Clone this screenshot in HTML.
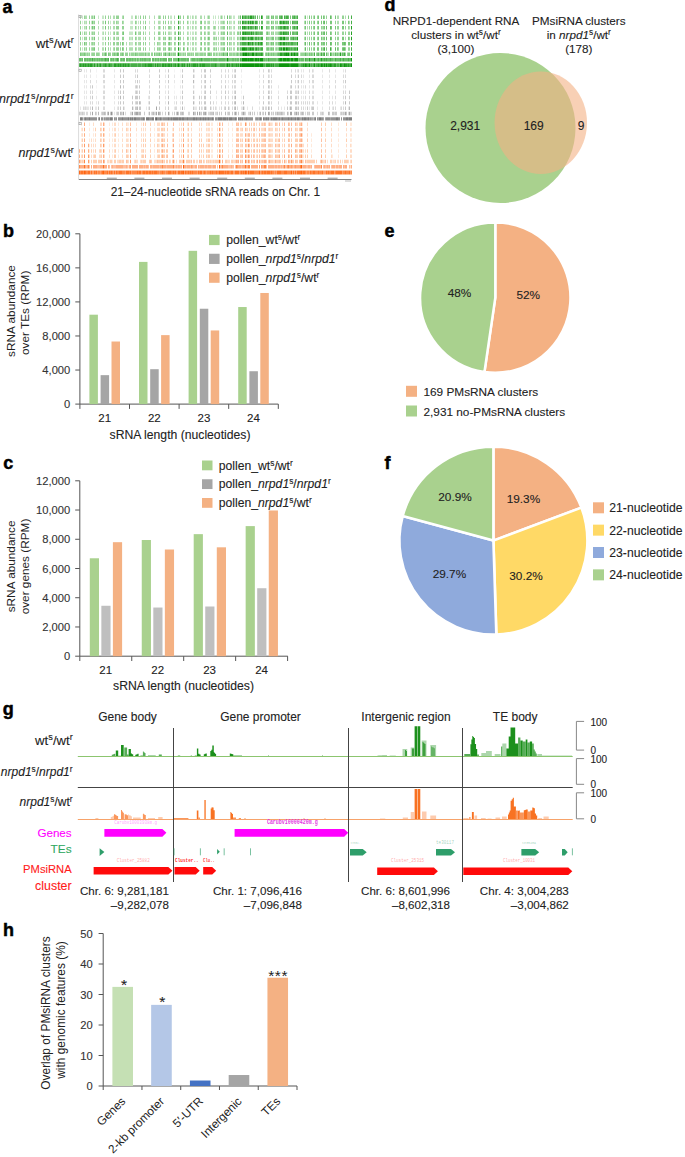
<!DOCTYPE html><html><head><meta charset="utf-8"><style>html,body{margin:0;padding:0;background:#fff;width:685px;height:1157px;overflow:hidden;position:relative}</style></head><body><svg width="685" height="1157" viewBox="0 0 685 1157" font-family='"Liberation Sans", sans-serif' style="position:absolute;left:0;top:0">
<rect width="685" height="1157" fill="#fff"/>
<text x="2.6" y="12.7" font-size="18" text-anchor="start" font-weight="bold" fill="#000" stroke="#000" stroke-width="0.45">a</text>
<text x="3.0" y="237.1" font-size="18" text-anchor="start" font-weight="bold" fill="#000" stroke="#000" stroke-width="0.45">b</text>
<text x="3.2" y="469.1" font-size="18" text-anchor="start" font-weight="bold" fill="#000" stroke="#000" stroke-width="0.45">c</text>
<text x="384.6" y="11.0" font-size="18" text-anchor="start" font-weight="bold" fill="#000" stroke="#000" stroke-width="0.45">d</text>
<text x="384.6" y="237.0" font-size="18" text-anchor="start" font-weight="bold" fill="#000" stroke="#000" stroke-width="0.45">e</text>
<text x="384.6" y="469.1" font-size="18" text-anchor="start" font-weight="bold" fill="#000" stroke="#000" stroke-width="0.45">f</text>
<text x="2.8" y="714.8" font-size="18" text-anchor="start" font-weight="bold" fill="#000" stroke="#000" stroke-width="0.45">g</text>
<text x="3.0" y="936.3" font-size="18" text-anchor="start" font-weight="bold" fill="#000" stroke="#000" stroke-width="0.45">h</text>
<defs><filter id="tb" x="-5%" y="-5%" width="110%" height="110%"><feGaussianBlur stdDeviation="0.55 0.35"/></filter></defs><g filter="url(#tb)">
<path d="M82 20.8h1v3.5h-1zM130 20.8h1v3.5h-1zM82 26.1h1v3.5h-1zM220 31.4h1v3.5h-1z" fill="#0b960b" fill-opacity="0.14"/>
<path d="M82 15.5h1v3.5h-1zM93 15.5h1v3.5h-1zM98 15.5h1v3.5h-1zM102 15.5h2v3.5h-2zM131 15.5h2v3.5h-2zM138 15.5h1v3.5h-1zM170 15.5h2v3.5h-2zM179 15.5h1v3.5h-1zM190 15.5h1v3.5h-1zM193 15.5h1v3.5h-1zM196 15.5h1v3.5h-1zM207 15.5h1v3.5h-1zM213 15.5h1v3.5h-1zM215 15.5h1v3.5h-1zM218 15.5h1v3.5h-1zM220 15.5h1v3.5h-1zM222 15.5h1v3.5h-1zM231 15.5h1v3.5h-1zM233 15.5h2v3.5h-2zM239 15.5h1v3.5h-1zM269 15.5h1v3.5h-1zM304 15.5h1v3.5h-1zM307 15.5h1v3.5h-1zM85 20.8h1v3.5h-1zM91 20.8h1v3.5h-1zM102 20.8h1v3.5h-1zM110 20.8h1v3.5h-1zM131 20.8h2v3.5h-2zM138 20.8h1v3.5h-1zM149 20.8h1v3.5h-1zM160 20.8h1v3.5h-1zM170 20.8h1v3.5h-1zM179 20.8h1v3.5h-1zM188 20.8h1v3.5h-1zM190 20.8h1v3.5h-1zM192 20.8h1v3.5h-1zM196 20.8h1v3.5h-1zM207 20.8h1v3.5h-1zM213 20.8h1v3.5h-1zM215 20.8h1v3.5h-1zM218 20.8h1v3.5h-1zM220 20.8h1v3.5h-1zM230 20.8h2v3.5h-2zM233 20.8h1v3.5h-1zM239 20.8h1v3.5h-1zM269 20.8h1v3.5h-1zM85 26.1h1v3.5h-1zM91 26.1h1v3.5h-1zM102 26.1h2v3.5h-2zM130 26.1h3v3.5h-3zM136 26.1h1v3.5h-1zM149 26.1h1v3.5h-1zM160 26.1h1v3.5h-1zM171 26.1h1v3.5h-1zM179 26.1h1v3.5h-1zM190 26.1h1v3.5h-1zM193 26.1h1v3.5h-1zM196 26.1h1v3.5h-1zM207 26.1h1v3.5h-1zM220 26.1h1v3.5h-1zM230 26.1h2v3.5h-2zM233 26.1h1v3.5h-1zM239 26.1h1v3.5h-1zM82 31.4h1v3.5h-1zM85 31.4h1v3.5h-1zM91 31.4h1v3.5h-1zM102 31.4h1v3.5h-1zM110 31.4h1v3.5h-1zM129 31.4h4v3.5h-4zM136 31.4h1v3.5h-1zM160 31.4h1v3.5h-1zM170 31.4h2v3.5h-2zM179 31.4h1v3.5h-1zM188 31.4h1v3.5h-1zM190 31.4h1v3.5h-1zM192 31.4h2v3.5h-2zM196 31.4h1v3.5h-1zM207 31.4h1v3.5h-1zM215 31.4h1v3.5h-1zM229 31.4h1v3.5h-1zM233 31.4h1v3.5h-1zM239 31.4h1v3.5h-1zM304 31.4h1v3.5h-1zM82 36.7h1v3.5h-1zM91 36.7h1v3.5h-1zM93 36.7h1v3.5h-1zM102 36.7h2v3.5h-2zM110 36.7h1v3.5h-1zM130 36.7h2v3.5h-2zM160 36.7h1v3.5h-1zM190 36.7h1v3.5h-1zM196 36.7h1v3.5h-1zM207 36.7h1v3.5h-1zM215 36.7h1v3.5h-1zM220 36.7h1v3.5h-1zM230 36.7h1v3.5h-1zM233 36.7h2v3.5h-2zM239 36.7h1v3.5h-1zM82 42.0h1v3.5h-1zM102 42.0h2v3.5h-2zM130 42.0h3v3.5h-3zM160 42.0h1v3.5h-1zM179 42.0h1v3.5h-1zM190 42.0h1v3.5h-1zM196 42.0h1v3.5h-1zM215 42.0h1v3.5h-1zM220 42.0h1v3.5h-1zM239 42.0h1v3.5h-1zM269 42.0h1v3.5h-1zM82 47.3h1v3.5h-1zM85 47.3h1v3.5h-1zM179 47.3h1v3.5h-1zM188 47.3h1v3.5h-1zM190 47.3h1v3.5h-1zM196 47.3h1v3.5h-1zM207 47.3h1v3.5h-1zM215 47.3h1v3.5h-1zM220 47.3h1v3.5h-1zM230 47.3h1v3.5h-1zM239 47.3h1v3.5h-1zM304 47.3h1v3.5h-1zM130 52.6h1v3.5h-1zM215 52.6h1v3.5h-1zM218 52.6h1v3.5h-1z" fill="#0b960b" fill-opacity="0.22"/>
<path d="M80 15.5h1v3.5h-1zM85 15.5h2v3.5h-2zM91 15.5h1v3.5h-1zM110 15.5h1v3.5h-1zM113 15.5h2v3.5h-2zM122 15.5h1v3.5h-1zM136 15.5h1v3.5h-1zM149 15.5h1v3.5h-1zM154 15.5h1v3.5h-1zM158 15.5h1v3.5h-1zM160 15.5h1v3.5h-1zM174 15.5h1v3.5h-1zM188 15.5h1v3.5h-1zM192 15.5h1v3.5h-1zM195 15.5h1v3.5h-1zM200 15.5h2v3.5h-2zM204 15.5h1v3.5h-1zM209 15.5h1v3.5h-1zM224 15.5h1v3.5h-1zM230 15.5h1v3.5h-1zM238 15.5h1v3.5h-1zM313 15.5h1v3.5h-1zM337 15.5h2v3.5h-2zM345 15.5h1v3.5h-1zM84 20.8h1v3.5h-1zM86 20.8h1v3.5h-1zM93 20.8h1v3.5h-1zM98 20.8h1v3.5h-1zM103 20.8h1v3.5h-1zM113 20.8h2v3.5h-2zM117 20.8h2v3.5h-2zM123 20.8h1v3.5h-1zM136 20.8h1v3.5h-1zM143 20.8h1v3.5h-1zM154 20.8h1v3.5h-1zM158 20.8h2v3.5h-2zM171 20.8h1v3.5h-1zM174 20.8h1v3.5h-1zM180 20.8h1v3.5h-1zM193 20.8h1v3.5h-1zM195 20.8h1v3.5h-1zM204 20.8h2v3.5h-2zM208 20.8h2v3.5h-2zM221 20.8h2v3.5h-2zM224 20.8h1v3.5h-1zM229 20.8h1v3.5h-1zM234 20.8h1v3.5h-1zM254 20.8h1v3.5h-1zM266 20.8h1v3.5h-1zM272 20.8h1v3.5h-1zM276 20.8h1v3.5h-1zM304 20.8h1v3.5h-1zM307 20.8h1v3.5h-1zM313 20.8h1v3.5h-1zM337 20.8h2v3.5h-2zM345 20.8h1v3.5h-1zM349 20.8h1v3.5h-1zM84 26.1h1v3.5h-1zM93 26.1h1v3.5h-1zM98 26.1h1v3.5h-1zM110 26.1h1v3.5h-1zM113 26.1h2v3.5h-2zM138 26.1h1v3.5h-1zM140 26.1h1v3.5h-1zM143 26.1h1v3.5h-1zM154 26.1h1v3.5h-1zM158 26.1h1v3.5h-1zM165 26.1h1v3.5h-1zM170 26.1h1v3.5h-1zM180 26.1h1v3.5h-1zM183 26.1h1v3.5h-1zM187 26.1h2v3.5h-2zM192 26.1h1v3.5h-1zM195 26.1h1v3.5h-1zM205 26.1h1v3.5h-1zM209 26.1h1v3.5h-1zM213 26.1h1v3.5h-1zM215 26.1h1v3.5h-1zM218 26.1h1v3.5h-1zM221 26.1h2v3.5h-2zM234 26.1h1v3.5h-1zM269 26.1h1v3.5h-1zM275 26.1h1v3.5h-1zM277 26.1h1v3.5h-1zM304 26.1h1v3.5h-1zM307 26.1h1v3.5h-1zM322 26.1h1v3.5h-1zM349 26.1h1v3.5h-1zM86 31.4h1v3.5h-1zM93 31.4h1v3.5h-1zM98 31.4h1v3.5h-1zM103 31.4h1v3.5h-1zM105 31.4h1v3.5h-1zM108 31.4h1v3.5h-1zM113 31.4h1v3.5h-1zM116 31.4h1v3.5h-1zM118 31.4h1v3.5h-1zM138 31.4h2v3.5h-2zM145 31.4h1v3.5h-1zM149 31.4h1v3.5h-1zM154 31.4h1v3.5h-1zM168 31.4h2v3.5h-2zM174 31.4h1v3.5h-1zM183 31.4h1v3.5h-1zM187 31.4h1v3.5h-1zM195 31.4h1v3.5h-1zM200 31.4h1v3.5h-1zM205 31.4h1v3.5h-1zM209 31.4h1v3.5h-1zM213 31.4h2v3.5h-2zM218 31.4h1v3.5h-1zM222 31.4h1v3.5h-1zM230 31.4h2v3.5h-2zM234 31.4h1v3.5h-1zM268 31.4h2v3.5h-2zM272 31.4h1v3.5h-1zM275 31.4h3v3.5h-3zM307 31.4h1v3.5h-1zM313 31.4h1v3.5h-1zM322 31.4h1v3.5h-1zM337 31.4h2v3.5h-2zM85 36.7h1v3.5h-1zM98 36.7h1v3.5h-1zM113 36.7h1v3.5h-1zM116 36.7h2v3.5h-2zM129 36.7h1v3.5h-1zM132 36.7h1v3.5h-1zM136 36.7h1v3.5h-1zM138 36.7h3v3.5h-3zM143 36.7h1v3.5h-1zM149 36.7h1v3.5h-1zM158 36.7h1v3.5h-1zM164 36.7h1v3.5h-1zM168 36.7h1v3.5h-1zM170 36.7h2v3.5h-2zM174 36.7h1v3.5h-1zM179 36.7h1v3.5h-1zM183 36.7h1v3.5h-1zM188 36.7h1v3.5h-1zM192 36.7h2v3.5h-2zM195 36.7h1v3.5h-1zM200 36.7h1v3.5h-1zM205 36.7h1v3.5h-1zM213 36.7h1v3.5h-1zM218 36.7h1v3.5h-1zM221 36.7h2v3.5h-2zM224 36.7h1v3.5h-1zM229 36.7h1v3.5h-1zM231 36.7h1v3.5h-1zM238 36.7h1v3.5h-1zM269 36.7h2v3.5h-2zM276 36.7h2v3.5h-2zM304 36.7h1v3.5h-1zM307 36.7h1v3.5h-1zM322 36.7h1v3.5h-1zM345 36.7h1v3.5h-1zM85 42.0h1v3.5h-1zM89 42.0h1v3.5h-1zM91 42.0h1v3.5h-1zM93 42.0h1v3.5h-1zM98 42.0h1v3.5h-1zM110 42.0h1v3.5h-1zM116 42.0h1v3.5h-1zM126 42.0h1v3.5h-1zM129 42.0h1v3.5h-1zM136 42.0h1v3.5h-1zM138 42.0h2v3.5h-2zM149 42.0h1v3.5h-1zM154 42.0h1v3.5h-1zM158 42.0h2v3.5h-2zM164 42.0h1v3.5h-1zM170 42.0h2v3.5h-2zM175 42.0h1v3.5h-1zM180 42.0h1v3.5h-1zM184 42.0h1v3.5h-1zM187 42.0h2v3.5h-2zM192 42.0h2v3.5h-2zM195 42.0h1v3.5h-1zM200 42.0h1v3.5h-1zM205 42.0h1v3.5h-1zM207 42.0h1v3.5h-1zM209 42.0h1v3.5h-1zM213 42.0h2v3.5h-2zM216 42.0h1v3.5h-1zM218 42.0h1v3.5h-1zM222 42.0h1v3.5h-1zM230 42.0h2v3.5h-2zM233 42.0h2v3.5h-2zM238 42.0h1v3.5h-1zM270 42.0h1v3.5h-1zM275 42.0h1v3.5h-1zM277 42.0h1v3.5h-1zM304 42.0h1v3.5h-1zM307 42.0h1v3.5h-1zM313 42.0h1v3.5h-1zM338 42.0h1v3.5h-1zM91 47.3h1v3.5h-1zM98 47.3h1v3.5h-1zM102 47.3h2v3.5h-2zM110 47.3h1v3.5h-1zM113 47.3h1v3.5h-1zM129 47.3h4v3.5h-4zM136 47.3h1v3.5h-1zM138 47.3h2v3.5h-2zM149 47.3h1v3.5h-1zM154 47.3h1v3.5h-1zM158 47.3h1v3.5h-1zM160 47.3h1v3.5h-1zM164 47.3h1v3.5h-1zM170 47.3h2v3.5h-2zM180 47.3h1v3.5h-1zM184 47.3h1v3.5h-1zM192 47.3h2v3.5h-2zM195 47.3h1v3.5h-1zM209 47.3h1v3.5h-1zM213 47.3h1v3.5h-1zM218 47.3h1v3.5h-1zM221 47.3h2v3.5h-2zM231 47.3h1v3.5h-1zM233 47.3h2v3.5h-2zM269 47.3h1v3.5h-1zM275 47.3h1v3.5h-1zM277 47.3h1v3.5h-1zM307 47.3h1v3.5h-1zM322 47.3h1v3.5h-1zM86 52.6h1v3.5h-1zM88 52.6h1v3.5h-1zM91 52.6h1v3.5h-1zM99 52.6h1v3.5h-1zM103 52.6h1v3.5h-1zM134 52.6h1v3.5h-1zM138 52.6h1v3.5h-1zM144 52.6h1v3.5h-1zM146 52.6h2v3.5h-2zM155 52.6h1v3.5h-1zM160 52.6h1v3.5h-1zM166 52.6h2v3.5h-2zM170 52.6h1v3.5h-1zM172 52.6h1v3.5h-1zM177 52.6h1v3.5h-1zM181 52.6h2v3.5h-2zM184 52.6h1v3.5h-1zM190 52.6h1v3.5h-1zM192 52.6h1v3.5h-1zM198 52.6h2v3.5h-2zM203 52.6h1v3.5h-1zM207 52.6h1v3.5h-1zM217 52.6h1v3.5h-1zM220 52.6h1v3.5h-1zM232 52.6h1v3.5h-1zM235 52.6h1v3.5h-1zM239 52.6h1v3.5h-1zM263 52.6h1v3.5h-1zM298 52.6h1v3.5h-1zM300 52.6h1v3.5h-1zM308 52.6h1v3.5h-1zM313 52.6h1v3.5h-1zM319 52.6h1v3.5h-1zM327 52.6h2v3.5h-2zM332 52.6h1v3.5h-1zM334 52.6h1v3.5h-1zM341 52.6h1v3.5h-1zM190 57.9h1v3.5h-1zM239 57.9h1v3.5h-1zM304 57.9h1v3.5h-1z" fill="#0b960b" fill-opacity="0.31"/>
<path d="M84 15.5h1v3.5h-1zM89 15.5h1v3.5h-1zM92 15.5h1v3.5h-1zM105 15.5h1v3.5h-1zM108 15.5h1v3.5h-1zM116 15.5h3v3.5h-3zM123 15.5h1v3.5h-1zM135 15.5h1v3.5h-1zM140 15.5h1v3.5h-1zM143 15.5h1v3.5h-1zM145 15.5h1v3.5h-1zM159 15.5h1v3.5h-1zM163 15.5h1v3.5h-1zM165 15.5h1v3.5h-1zM168 15.5h1v3.5h-1zM180 15.5h1v3.5h-1zM183 15.5h1v3.5h-1zM187 15.5h1v3.5h-1zM208 15.5h1v3.5h-1zM221 15.5h1v3.5h-1zM229 15.5h1v3.5h-1zM254 15.5h1v3.5h-1zM259 15.5h1v3.5h-1zM266 15.5h2v3.5h-2zM272 15.5h1v3.5h-1zM275 15.5h3v3.5h-3zM311 15.5h1v3.5h-1zM317 15.5h1v3.5h-1zM324 15.5h1v3.5h-1zM326 15.5h1v3.5h-1zM331 15.5h1v3.5h-1zM342 15.5h2v3.5h-2zM80 20.8h1v3.5h-1zM89 20.8h1v3.5h-1zM94 20.8h1v3.5h-1zM108 20.8h1v3.5h-1zM116 20.8h1v3.5h-1zM122 20.8h1v3.5h-1zM135 20.8h1v3.5h-1zM140 20.8h1v3.5h-1zM145 20.8h1v3.5h-1zM163 20.8h1v3.5h-1zM165 20.8h1v3.5h-1zM168 20.8h1v3.5h-1zM183 20.8h1v3.5h-1zM187 20.8h1v3.5h-1zM200 20.8h1v3.5h-1zM223 20.8h1v3.5h-1zM238 20.8h1v3.5h-1zM259 20.8h1v3.5h-1zM267 20.8h2v3.5h-2zM273 20.8h1v3.5h-1zM275 20.8h1v3.5h-1zM277 20.8h1v3.5h-1zM290 20.8h1v3.5h-1zM311 20.8h1v3.5h-1zM317 20.8h1v3.5h-1zM326 20.8h1v3.5h-1zM335 20.8h1v3.5h-1zM80 26.1h1v3.5h-1zM86 26.1h1v3.5h-1zM89 26.1h1v3.5h-1zM108 26.1h1v3.5h-1zM116 26.1h3v3.5h-3zM122 26.1h2v3.5h-2zM135 26.1h1v3.5h-1zM159 26.1h1v3.5h-1zM163 26.1h1v3.5h-1zM168 26.1h2v3.5h-2zM174 26.1h1v3.5h-1zM200 26.1h2v3.5h-2zM204 26.1h1v3.5h-1zM208 26.1h1v3.5h-1zM214 26.1h1v3.5h-1zM223 26.1h2v3.5h-2zM229 26.1h1v3.5h-1zM238 26.1h1v3.5h-1zM254 26.1h1v3.5h-1zM267 26.1h2v3.5h-2zM272 26.1h1v3.5h-1zM276 26.1h1v3.5h-1zM309 26.1h1v3.5h-1zM311 26.1h1v3.5h-1zM313 26.1h1v3.5h-1zM317 26.1h1v3.5h-1zM321 26.1h1v3.5h-1zM323 26.1h1v3.5h-1zM337 26.1h2v3.5h-2zM345 26.1h1v3.5h-1zM348 26.1h1v3.5h-1zM84 31.4h1v3.5h-1zM89 31.4h1v3.5h-1zM92 31.4h1v3.5h-1zM94 31.4h1v3.5h-1zM114 31.4h1v3.5h-1zM117 31.4h1v3.5h-1zM122 31.4h1v3.5h-1zM140 31.4h1v3.5h-1zM143 31.4h1v3.5h-1zM158 31.4h2v3.5h-2zM163 31.4h1v3.5h-1zM165 31.4h1v3.5h-1zM175 31.4h1v3.5h-1zM180 31.4h1v3.5h-1zM201 31.4h1v3.5h-1zM204 31.4h1v3.5h-1zM208 31.4h1v3.5h-1zM221 31.4h1v3.5h-1zM223 31.4h2v3.5h-2zM237 31.4h2v3.5h-2zM254 31.4h1v3.5h-1zM266 31.4h1v3.5h-1zM271 31.4h1v3.5h-1zM273 31.4h1v3.5h-1zM278 31.4h1v3.5h-1zM309 31.4h1v3.5h-1zM311 31.4h1v3.5h-1zM317 31.4h1v3.5h-1zM331 31.4h1v3.5h-1zM342 31.4h2v3.5h-2zM345 31.4h1v3.5h-1zM348 31.4h2v3.5h-2zM80 36.7h1v3.5h-1zM84 36.7h1v3.5h-1zM86 36.7h1v3.5h-1zM89 36.7h1v3.5h-1zM92 36.7h1v3.5h-1zM105 36.7h1v3.5h-1zM114 36.7h1v3.5h-1zM118 36.7h1v3.5h-1zM122 36.7h2v3.5h-2zM135 36.7h1v3.5h-1zM145 36.7h1v3.5h-1zM154 36.7h1v3.5h-1zM159 36.7h1v3.5h-1zM163 36.7h1v3.5h-1zM165 36.7h1v3.5h-1zM175 36.7h1v3.5h-1zM180 36.7h1v3.5h-1zM187 36.7h1v3.5h-1zM201 36.7h1v3.5h-1zM204 36.7h1v3.5h-1zM209 36.7h1v3.5h-1zM214 36.7h1v3.5h-1zM216 36.7h1v3.5h-1zM223 36.7h1v3.5h-1zM237 36.7h1v3.5h-1zM241 36.7h1v3.5h-1zM254 36.7h1v3.5h-1zM267 36.7h2v3.5h-2zM271 36.7h1v3.5h-1zM275 36.7h1v3.5h-1zM309 36.7h1v3.5h-1zM311 36.7h1v3.5h-1zM313 36.7h1v3.5h-1zM317 36.7h1v3.5h-1zM323 36.7h1v3.5h-1zM335 36.7h1v3.5h-1zM337 36.7h2v3.5h-2zM349 36.7h1v3.5h-1zM80 42.0h1v3.5h-1zM86 42.0h1v3.5h-1zM92 42.0h1v3.5h-1zM94 42.0h1v3.5h-1zM105 42.0h1v3.5h-1zM108 42.0h1v3.5h-1zM113 42.0h2v3.5h-2zM117 42.0h2v3.5h-2zM120 42.0h1v3.5h-1zM123 42.0h1v3.5h-1zM135 42.0h1v3.5h-1zM140 42.0h1v3.5h-1zM143 42.0h1v3.5h-1zM145 42.0h1v3.5h-1zM157 42.0h1v3.5h-1zM163 42.0h1v3.5h-1zM165 42.0h1v3.5h-1zM168 42.0h1v3.5h-1zM174 42.0h1v3.5h-1zM183 42.0h1v3.5h-1zM204 42.0h1v3.5h-1zM208 42.0h1v3.5h-1zM221 42.0h1v3.5h-1zM223 42.0h2v3.5h-2zM229 42.0h1v3.5h-1zM237 42.0h1v3.5h-1zM254 42.0h1v3.5h-1zM267 42.0h2v3.5h-2zM272 42.0h1v3.5h-1zM276 42.0h1v3.5h-1zM311 42.0h1v3.5h-1zM317 42.0h1v3.5h-1zM322 42.0h1v3.5h-1zM337 42.0h1v3.5h-1zM80 47.3h1v3.5h-1zM84 47.3h1v3.5h-1zM86 47.3h1v3.5h-1zM89 47.3h1v3.5h-1zM92 47.3h2v3.5h-2zM108 47.3h1v3.5h-1zM114 47.3h1v3.5h-1zM116 47.3h3v3.5h-3zM120 47.3h1v3.5h-1zM123 47.3h1v3.5h-1zM126 47.3h1v3.5h-1zM135 47.3h1v3.5h-1zM140 47.3h1v3.5h-1zM143 47.3h1v3.5h-1zM145 47.3h1v3.5h-1zM157 47.3h1v3.5h-1zM159 47.3h1v3.5h-1zM163 47.3h1v3.5h-1zM165 47.3h1v3.5h-1zM168 47.3h1v3.5h-1zM174 47.3h2v3.5h-2zM200 47.3h2v3.5h-2zM204 47.3h2v3.5h-2zM214 47.3h1v3.5h-1zM216 47.3h1v3.5h-1zM223 47.3h1v3.5h-1zM229 47.3h1v3.5h-1zM238 47.3h1v3.5h-1zM254 47.3h1v3.5h-1zM266 47.3h1v3.5h-1zM270 47.3h1v3.5h-1zM272 47.3h1v3.5h-1zM276 47.3h1v3.5h-1zM278 47.3h1v3.5h-1zM311 47.3h1v3.5h-1zM313 47.3h1v3.5h-1zM331 47.3h1v3.5h-1zM338 47.3h1v3.5h-1zM345 47.3h1v3.5h-1zM348 47.3h2v3.5h-2zM81 52.6h3v3.5h-3zM85 52.6h1v3.5h-1zM87 52.6h1v3.5h-1zM89 52.6h1v3.5h-1zM92 52.6h3v3.5h-3zM96 52.6h3v3.5h-3zM102 52.6h1v3.5h-1zM104 52.6h1v3.5h-1zM106 52.6h1v3.5h-1zM109 52.6h2v3.5h-2zM112 52.6h2v3.5h-2zM115 52.6h2v3.5h-2zM120 52.6h2v3.5h-2zM123 52.6h1v3.5h-1zM125 52.6h3v3.5h-3zM129 52.6h1v3.5h-1zM131 52.6h3v3.5h-3zM136 52.6h2v3.5h-2zM139 52.6h5v3.5h-5zM148 52.6h2v3.5h-2zM151 52.6h2v3.5h-2zM156 52.6h3v3.5h-3zM161 52.6h1v3.5h-1zM163 52.6h2v3.5h-2zM168 52.6h1v3.5h-1zM171 52.6h1v3.5h-1zM173 52.6h3v3.5h-3zM179 52.6h2v3.5h-2zM183 52.6h1v3.5h-1zM185 52.6h1v3.5h-1zM187 52.6h3v3.5h-3zM191 52.6h1v3.5h-1zM193 52.6h1v3.5h-1zM195 52.6h3v3.5h-3zM200 52.6h3v3.5h-3zM204 52.6h2v3.5h-2zM210 52.6h2v3.5h-2zM213 52.6h2v3.5h-2zM216 52.6h1v3.5h-1zM219 52.6h1v3.5h-1zM221 52.6h2v3.5h-2zM224 52.6h3v3.5h-3zM229 52.6h3v3.5h-3zM233 52.6h2v3.5h-2zM236 52.6h1v3.5h-1zM238 52.6h1v3.5h-1zM265 52.6h1v3.5h-1zM267 52.6h1v3.5h-1zM269 52.6h2v3.5h-2zM272 52.6h1v3.5h-1zM274 52.6h3v3.5h-3zM301 52.6h4v3.5h-4zM306 52.6h2v3.5h-2zM310 52.6h1v3.5h-1zM312 52.6h1v3.5h-1zM316 52.6h1v3.5h-1zM320 52.6h1v3.5h-1zM322 52.6h1v3.5h-1zM333 52.6h1v3.5h-1zM336 52.6h1v3.5h-1zM338 52.6h2v3.5h-2zM345 52.6h1v3.5h-1zM347 52.6h1v3.5h-1zM114 57.9h1v3.5h-1zM136 57.9h1v3.5h-1zM139 57.9h1v3.5h-1zM154 57.9h1v3.5h-1zM159 57.9h1v3.5h-1z" fill="#0b960b" fill-opacity="0.41"/>
<path d="M94 15.5h1v3.5h-1zM247 15.5h1v3.5h-1zM249 15.5h1v3.5h-1zM268 15.5h1v3.5h-1zM271 15.5h1v3.5h-1zM273 15.5h1v3.5h-1zM282 15.5h1v3.5h-1zM285 15.5h1v3.5h-1zM290 15.5h1v3.5h-1zM295 15.5h2v3.5h-2zM305 15.5h1v3.5h-1zM309 15.5h1v3.5h-1zM314 15.5h1v3.5h-1zM318 15.5h1v3.5h-1zM321 15.5h1v3.5h-1zM323 15.5h1v3.5h-1zM335 15.5h1v3.5h-1zM348 15.5h1v3.5h-1zM92 20.8h1v3.5h-1zM105 20.8h1v3.5h-1zM201 20.8h1v3.5h-1zM227 20.8h1v3.5h-1zM240 20.8h1v3.5h-1zM247 20.8h1v3.5h-1zM249 20.8h1v3.5h-1zM257 20.8h1v3.5h-1zM271 20.8h1v3.5h-1zM279 20.8h1v3.5h-1zM305 20.8h1v3.5h-1zM309 20.8h1v3.5h-1zM314 20.8h1v3.5h-1zM318 20.8h1v3.5h-1zM321 20.8h1v3.5h-1zM323 20.8h1v3.5h-1zM330 20.8h2v3.5h-2zM342 20.8h2v3.5h-2zM348 20.8h1v3.5h-1zM92 26.1h1v3.5h-1zM94 26.1h1v3.5h-1zM105 26.1h1v3.5h-1zM145 26.1h1v3.5h-1zM227 26.1h1v3.5h-1zM240 26.1h1v3.5h-1zM247 26.1h1v3.5h-1zM249 26.1h1v3.5h-1zM259 26.1h1v3.5h-1zM266 26.1h1v3.5h-1zM271 26.1h1v3.5h-1zM273 26.1h1v3.5h-1zM278 26.1h2v3.5h-2zM282 26.1h1v3.5h-1zM290 26.1h1v3.5h-1zM292 26.1h1v3.5h-1zM295 26.1h1v3.5h-1zM305 26.1h1v3.5h-1zM314 26.1h1v3.5h-1zM318 26.1h1v3.5h-1zM324 26.1h1v3.5h-1zM331 26.1h1v3.5h-1zM335 26.1h1v3.5h-1zM342 26.1h2v3.5h-2zM80 31.4h1v3.5h-1zM123 31.4h1v3.5h-1zM135 31.4h1v3.5h-1zM259 31.4h1v3.5h-1zM262 31.4h1v3.5h-1zM267 31.4h1v3.5h-1zM279 31.4h1v3.5h-1zM282 31.4h1v3.5h-1zM294 31.4h2v3.5h-2zM305 31.4h1v3.5h-1zM314 31.4h1v3.5h-1zM318 31.4h1v3.5h-1zM321 31.4h1v3.5h-1zM323 31.4h1v3.5h-1zM326 31.4h1v3.5h-1zM330 31.4h1v3.5h-1zM335 31.4h1v3.5h-1zM94 36.7h1v3.5h-1zM108 36.7h1v3.5h-1zM169 36.7h1v3.5h-1zM208 36.7h1v3.5h-1zM247 36.7h1v3.5h-1zM257 36.7h1v3.5h-1zM259 36.7h2v3.5h-2zM266 36.7h1v3.5h-1zM272 36.7h2v3.5h-2zM278 36.7h1v3.5h-1zM285 36.7h1v3.5h-1zM290 36.7h1v3.5h-1zM294 36.7h1v3.5h-1zM296 36.7h1v3.5h-1zM305 36.7h1v3.5h-1zM314 36.7h1v3.5h-1zM318 36.7h1v3.5h-1zM321 36.7h1v3.5h-1zM324 36.7h1v3.5h-1zM331 36.7h1v3.5h-1zM342 36.7h2v3.5h-2zM348 36.7h1v3.5h-1zM84 42.0h1v3.5h-1zM122 42.0h1v3.5h-1zM169 42.0h1v3.5h-1zM201 42.0h1v3.5h-1zM227 42.0h1v3.5h-1zM241 42.0h1v3.5h-1zM257 42.0h1v3.5h-1zM266 42.0h1v3.5h-1zM271 42.0h1v3.5h-1zM273 42.0h1v3.5h-1zM278 42.0h1v3.5h-1zM296 42.0h1v3.5h-1zM318 42.0h1v3.5h-1zM321 42.0h1v3.5h-1zM323 42.0h2v3.5h-2zM326 42.0h1v3.5h-1zM331 42.0h1v3.5h-1zM335 42.0h1v3.5h-1zM342 42.0h2v3.5h-2zM345 42.0h1v3.5h-1zM348 42.0h2v3.5h-2zM94 47.3h1v3.5h-1zM105 47.3h1v3.5h-1zM122 47.3h1v3.5h-1zM169 47.3h1v3.5h-1zM183 47.3h1v3.5h-1zM187 47.3h1v3.5h-1zM208 47.3h1v3.5h-1zM224 47.3h1v3.5h-1zM237 47.3h1v3.5h-1zM241 47.3h1v3.5h-1zM259 47.3h1v3.5h-1zM267 47.3h2v3.5h-2zM271 47.3h1v3.5h-1zM273 47.3h1v3.5h-1zM282 47.3h1v3.5h-1zM309 47.3h1v3.5h-1zM314 47.3h1v3.5h-1zM317 47.3h2v3.5h-2zM321 47.3h1v3.5h-1zM323 47.3h1v3.5h-1zM326 47.3h1v3.5h-1zM337 47.3h1v3.5h-1zM342 47.3h1v3.5h-1zM80 52.6h1v3.5h-1zM84 52.6h1v3.5h-1zM108 52.6h1v3.5h-1zM114 52.6h1v3.5h-1zM118 52.6h1v3.5h-1zM122 52.6h1v3.5h-1zM135 52.6h1v3.5h-1zM145 52.6h1v3.5h-1zM154 52.6h1v3.5h-1zM159 52.6h1v3.5h-1zM208 52.6h2v3.5h-2zM237 52.6h1v3.5h-1zM241 52.6h1v3.5h-1zM266 52.6h1v3.5h-1zM271 52.6h1v3.5h-1zM273 52.6h1v3.5h-1zM277 52.6h1v3.5h-1zM290 52.6h1v3.5h-1zM309 52.6h1v3.5h-1zM311 52.6h1v3.5h-1zM317 52.6h1v3.5h-1zM331 52.6h1v3.5h-1zM337 52.6h1v3.5h-1zM343 52.6h1v3.5h-1zM348 52.6h2v3.5h-2zM81 57.9h1v3.5h-1zM86 57.9h1v3.5h-1zM88 57.9h1v3.5h-1zM91 57.9h1v3.5h-1zM93 57.9h1v3.5h-1zM95 57.9h2v3.5h-2zM98 57.9h1v3.5h-1zM100 57.9h1v3.5h-1zM103 57.9h1v3.5h-1zM110 57.9h1v3.5h-1zM112 57.9h1v3.5h-1zM115 57.9h1v3.5h-1zM120 57.9h1v3.5h-1zM122 57.9h1v3.5h-1zM128 57.9h1v3.5h-1zM131 57.9h1v3.5h-1zM133 57.9h2v3.5h-2zM138 57.9h1v3.5h-1zM141 57.9h1v3.5h-1zM143 57.9h1v3.5h-1zM146 57.9h3v3.5h-3zM150 57.9h1v3.5h-1zM156 57.9h2v3.5h-2zM161 57.9h2v3.5h-2zM170 57.9h1v3.5h-1zM173 57.9h5v3.5h-5zM180 57.9h1v3.5h-1zM186 57.9h1v3.5h-1zM191 57.9h1v3.5h-1zM195 57.9h2v3.5h-2zM198 57.9h1v3.5h-1zM203 57.9h1v3.5h-1zM210 57.9h1v3.5h-1zM212 57.9h1v3.5h-1zM217 57.9h2v3.5h-2zM225 57.9h2v3.5h-2zM229 57.9h3v3.5h-3zM234 57.9h1v3.5h-1zM236 57.9h1v3.5h-1zM265 57.9h1v3.5h-1zM267 57.9h1v3.5h-1zM276 57.9h2v3.5h-2zM298 57.9h1v3.5h-1zM300 57.9h1v3.5h-1zM308 57.9h1v3.5h-1zM316 57.9h1v3.5h-1zM319 57.9h1v3.5h-1zM333 57.9h2v3.5h-2zM341 57.9h1v3.5h-1z" fill="#0b960b" fill-opacity="0.52"/>
<path d="M227 15.5h1v3.5h-1zM240 15.5h1v3.5h-1zM243 15.5h2v3.5h-2zM246 15.5h1v3.5h-1zM252 15.5h1v3.5h-1zM255 15.5h1v3.5h-1zM257 15.5h1v3.5h-1zM262 15.5h1v3.5h-1zM279 15.5h2v3.5h-2zM288 15.5h1v3.5h-1zM292 15.5h2v3.5h-2zM330 15.5h1v3.5h-1zM244 20.8h1v3.5h-1zM246 20.8h1v3.5h-1zM251 20.8h1v3.5h-1zM261 20.8h2v3.5h-2zM282 20.8h1v3.5h-1zM285 20.8h1v3.5h-1zM287 20.8h1v3.5h-1zM293 20.8h4v3.5h-4zM324 20.8h1v3.5h-1zM246 26.1h1v3.5h-1zM252 26.1h2v3.5h-2zM256 26.1h2v3.5h-2zM286 26.1h1v3.5h-1zM288 26.1h1v3.5h-1zM293 26.1h1v3.5h-1zM296 26.1h1v3.5h-1zM326 26.1h1v3.5h-1zM330 26.1h1v3.5h-1zM227 31.4h1v3.5h-1zM240 31.4h1v3.5h-1zM250 31.4h1v3.5h-1zM252 31.4h1v3.5h-1zM255 31.4h1v3.5h-1zM257 31.4h2v3.5h-2zM260 31.4h2v3.5h-2zM287 31.4h1v3.5h-1zM290 31.4h1v3.5h-1zM292 31.4h2v3.5h-2zM296 31.4h1v3.5h-1zM324 31.4h1v3.5h-1zM227 36.7h1v3.5h-1zM240 36.7h1v3.5h-1zM246 36.7h1v3.5h-1zM249 36.7h1v3.5h-1zM253 36.7h1v3.5h-1zM279 36.7h1v3.5h-1zM282 36.7h1v3.5h-1zM286 36.7h3v3.5h-3zM291 36.7h2v3.5h-2zM295 36.7h1v3.5h-1zM326 36.7h1v3.5h-1zM330 36.7h1v3.5h-1zM240 42.0h1v3.5h-1zM246 42.0h2v3.5h-2zM251 42.0h1v3.5h-1zM253 42.0h1v3.5h-1zM256 42.0h1v3.5h-1zM259 42.0h1v3.5h-1zM262 42.0h1v3.5h-1zM279 42.0h1v3.5h-1zM282 42.0h1v3.5h-1zM285 42.0h1v3.5h-1zM287 42.0h1v3.5h-1zM289 42.0h2v3.5h-2zM293 42.0h3v3.5h-3zM305 42.0h1v3.5h-1zM309 42.0h1v3.5h-1zM314 42.0h1v3.5h-1zM330 42.0h1v3.5h-1zM344 42.0h1v3.5h-1zM227 47.3h1v3.5h-1zM240 47.3h1v3.5h-1zM247 47.3h1v3.5h-1zM257 47.3h1v3.5h-1zM260 47.3h1v3.5h-1zM285 47.3h1v3.5h-1zM290 47.3h1v3.5h-1zM292 47.3h2v3.5h-2zM296 47.3h1v3.5h-1zM305 47.3h1v3.5h-1zM335 47.3h1v3.5h-1zM343 47.3h2v3.5h-2zM105 52.6h1v3.5h-1zM117 52.6h1v3.5h-1zM165 52.6h1v3.5h-1zM169 52.6h1v3.5h-1zM223 52.6h1v3.5h-1zM240 52.6h1v3.5h-1zM254 52.6h1v3.5h-1zM268 52.6h1v3.5h-1zM278 52.6h2v3.5h-2zM289 52.6h1v3.5h-1zM305 52.6h1v3.5h-1zM318 52.6h1v3.5h-1zM323 52.6h1v3.5h-1zM326 52.6h1v3.5h-1zM335 52.6h1v3.5h-1zM342 52.6h1v3.5h-1zM79 57.9h2v3.5h-2zM82 57.9h1v3.5h-1zM84 57.9h2v3.5h-2zM87 57.9h1v3.5h-1zM89 57.9h2v3.5h-2zM94 57.9h1v3.5h-1zM97 57.9h1v3.5h-1zM99 57.9h1v3.5h-1zM101 57.9h2v3.5h-2zM104 57.9h1v3.5h-1zM106 57.9h2v3.5h-2zM111 57.9h1v3.5h-1zM113 57.9h1v3.5h-1zM116 57.9h1v3.5h-1zM118 57.9h1v3.5h-1zM121 57.9h1v3.5h-1zM123 57.9h2v3.5h-2zM126 57.9h2v3.5h-2zM129 57.9h2v3.5h-2zM132 57.9h1v3.5h-1zM135 57.9h1v3.5h-1zM137 57.9h1v3.5h-1zM140 57.9h1v3.5h-1zM142 57.9h1v3.5h-1zM144 57.9h2v3.5h-2zM149 57.9h1v3.5h-1zM152 57.9h2v3.5h-2zM155 57.9h1v3.5h-1zM158 57.9h1v3.5h-1zM160 57.9h1v3.5h-1zM163 57.9h4v3.5h-4zM168 57.9h2v3.5h-2zM171 57.9h1v3.5h-1zM179 57.9h1v3.5h-1zM181 57.9h5v3.5h-5zM187 57.9h2v3.5h-2zM192 57.9h3v3.5h-3zM197 57.9h1v3.5h-1zM199 57.9h2v3.5h-2zM202 57.9h1v3.5h-1zM204 57.9h6v3.5h-6zM211 57.9h1v3.5h-1zM213 57.9h4v3.5h-4zM219 57.9h6v3.5h-6zM228 57.9h1v3.5h-1zM232 57.9h2v3.5h-2zM235 57.9h1v3.5h-1zM237 57.9h2v3.5h-2zM241 57.9h1v3.5h-1zM263 57.9h2v3.5h-2zM266 57.9h1v3.5h-1zM269 57.9h7v3.5h-7zM299 57.9h1v3.5h-1zM301 57.9h3v3.5h-3zM306 57.9h2v3.5h-2zM310 57.9h4v3.5h-4zM315 57.9h1v3.5h-1zM317 57.9h1v3.5h-1zM320 57.9h1v3.5h-1zM322 57.9h2v3.5h-2zM325 57.9h1v3.5h-1zM327 57.9h3v3.5h-3zM331 57.9h2v3.5h-2zM336 57.9h4v3.5h-4zM342 57.9h1v3.5h-1zM344 57.9h4v3.5h-4zM349 57.9h2v3.5h-2zM93 63.2h1v3.9h-1zM95 63.2h2v3.9h-2zM98 63.2h1v3.9h-1zM101 63.2h2v3.9h-2zM107 63.2h1v3.9h-1zM112 63.2h2v3.9h-2zM130 63.2h1v3.9h-1zM137 63.2h1v3.9h-1zM141 63.2h1v3.9h-1zM154 63.2h1v3.9h-1zM156 63.2h1v3.9h-1zM161 63.2h1v3.9h-1zM172 63.2h1v3.9h-1zM176 63.2h1v3.9h-1zM180 63.2h1v3.9h-1zM185 63.2h2v3.9h-2zM188 63.2h1v3.9h-1zM190 63.2h1v3.9h-1zM198 63.2h1v3.9h-1zM210 63.2h1v3.9h-1zM217 63.2h3v3.9h-3zM225 63.2h1v3.9h-1zM230 63.2h1v3.9h-1zM239 63.2h1v3.9h-1zM265 63.2h1v3.9h-1zM274 63.2h1v3.9h-1zM299 63.2h2v3.9h-2zM310 63.2h1v3.9h-1zM312 63.2h1v3.9h-1zM315 63.2h1v3.9h-1zM336 63.2h1v3.9h-1zM339 63.2h1v3.9h-1z" fill="#0b960b" fill-opacity="0.64"/>
<path d="M245 15.5h1v3.5h-1zM248 15.5h1v3.5h-1zM253 15.5h1v3.5h-1zM281 15.5h1v3.5h-1zM284 15.5h1v3.5h-1zM286 15.5h2v3.5h-2zM294 15.5h1v3.5h-1zM297 15.5h1v3.5h-1zM351 15.5h1v3.5h-1zM178 20.8h1v3.5h-1zM243 20.8h1v3.5h-1zM245 20.8h1v3.5h-1zM253 20.8h1v3.5h-1zM255 20.8h2v3.5h-2zM281 20.8h1v3.5h-1zM284 20.8h1v3.5h-1zM286 20.8h1v3.5h-1zM288 20.8h1v3.5h-1zM292 20.8h1v3.5h-1zM297 20.8h1v3.5h-1zM351 20.8h1v3.5h-1zM243 26.1h1v3.5h-1zM245 26.1h1v3.5h-1zM250 26.1h2v3.5h-2zM262 26.1h1v3.5h-1zM280 26.1h2v3.5h-2zM283 26.1h1v3.5h-1zM285 26.1h1v3.5h-1zM287 26.1h1v3.5h-1zM294 26.1h1v3.5h-1zM178 31.4h1v3.5h-1zM242 31.4h1v3.5h-1zM244 31.4h1v3.5h-1zM246 31.4h4v3.5h-4zM253 31.4h1v3.5h-1zM256 31.4h1v3.5h-1zM280 31.4h2v3.5h-2zM284 31.4h3v3.5h-3zM288 31.4h1v3.5h-1zM297 31.4h1v3.5h-1zM178 36.7h1v3.5h-1zM244 36.7h2v3.5h-2zM250 36.7h1v3.5h-1zM255 36.7h2v3.5h-2zM258 36.7h1v3.5h-1zM261 36.7h2v3.5h-2zM293 36.7h1v3.5h-1zM178 42.0h1v3.5h-1zM242 42.0h4v3.5h-4zM249 42.0h2v3.5h-2zM255 42.0h1v3.5h-1zM260 42.0h1v3.5h-1zM281 42.0h1v3.5h-1zM286 42.0h1v3.5h-1zM288 42.0h1v3.5h-1zM291 42.0h2v3.5h-2zM248 47.3h2v3.5h-2zM251 47.3h1v3.5h-1zM255 47.3h1v3.5h-1zM258 47.3h1v3.5h-1zM261 47.3h2v3.5h-2zM279 47.3h2v3.5h-2zM288 47.3h2v3.5h-2zM291 47.3h1v3.5h-1zM294 47.3h2v3.5h-2zM324 47.3h1v3.5h-1zM330 47.3h1v3.5h-1zM351 47.3h1v3.5h-1zM227 52.6h1v3.5h-1zM242 52.6h1v3.5h-1zM247 52.6h1v3.5h-1zM249 52.6h3v3.5h-3zM255 52.6h1v3.5h-1zM257 52.6h4v3.5h-4zM262 52.6h1v3.5h-1zM282 52.6h2v3.5h-2zM292 52.6h2v3.5h-2zM295 52.6h2v3.5h-2zM314 52.6h1v3.5h-1zM321 52.6h1v3.5h-1zM324 52.6h1v3.5h-1zM330 52.6h1v3.5h-1zM344 52.6h1v3.5h-1zM92 57.9h1v3.5h-1zM105 57.9h1v3.5h-1zM108 57.9h1v3.5h-1zM117 57.9h1v3.5h-1zM201 57.9h1v3.5h-1zM240 57.9h1v3.5h-1zM254 57.9h1v3.5h-1zM259 57.9h1v3.5h-1zM268 57.9h1v3.5h-1zM278 57.9h1v3.5h-1zM282 57.9h1v3.5h-1zM290 57.9h1v3.5h-1zM293 57.9h1v3.5h-1zM305 57.9h1v3.5h-1zM318 57.9h1v3.5h-1zM324 57.9h1v3.5h-1zM326 57.9h1v3.5h-1zM330 57.9h1v3.5h-1zM335 57.9h1v3.5h-1zM340 57.9h1v3.5h-1zM343 57.9h1v3.5h-1zM348 57.9h1v3.5h-1zM79 63.2h1v3.9h-1zM81 63.2h2v3.9h-2zM84 63.2h1v3.9h-1zM86 63.2h2v3.9h-2zM89 63.2h1v3.9h-1zM92 63.2h1v3.9h-1zM99 63.2h1v3.9h-1zM103 63.2h2v3.9h-2zM106 63.2h1v3.9h-1zM108 63.2h1v3.9h-1zM110 63.2h2v3.9h-2zM116 63.2h2v3.9h-2zM119 63.2h1v3.9h-1zM121 63.2h2v3.9h-2zM124 63.2h1v3.9h-1zM126 63.2h2v3.9h-2zM129 63.2h1v3.9h-1zM131 63.2h6v3.9h-6zM138 63.2h3v3.9h-3zM142 63.2h3v3.9h-3zM146 63.2h2v3.9h-2zM152 63.2h2v3.9h-2zM158 63.2h3v3.9h-3zM164 63.2h1v3.9h-1zM166 63.2h2v3.9h-2zM170 63.2h1v3.9h-1zM173 63.2h2v3.9h-2zM177 63.2h1v3.9h-1zM179 63.2h1v3.9h-1zM181 63.2h1v3.9h-1zM183 63.2h1v3.9h-1zM191 63.2h2v3.9h-2zM196 63.2h1v3.9h-1zM199 63.2h1v3.9h-1zM201 63.2h1v3.9h-1zM205 63.2h5v3.9h-5zM211 63.2h4v3.9h-4zM216 63.2h1v3.9h-1zM220 63.2h5v3.9h-5zM226 63.2h1v3.9h-1zM228 63.2h1v3.9h-1zM231 63.2h1v3.9h-1zM233 63.2h3v3.9h-3zM237 63.2h1v3.9h-1zM263 63.2h2v3.9h-2zM270 63.2h1v3.9h-1zM272 63.2h1v3.9h-1zM275 63.2h4v3.9h-4zM298 63.2h1v3.9h-1zM301 63.2h2v3.9h-2zM304 63.2h1v3.9h-1zM307 63.2h2v3.9h-2zM311 63.2h1v3.9h-1zM313 63.2h1v3.9h-1zM316 63.2h2v3.9h-2zM319 63.2h2v3.9h-2zM323 63.2h1v3.9h-1zM325 63.2h1v3.9h-1zM327 63.2h1v3.9h-1zM332 63.2h2v3.9h-2zM337 63.2h2v3.9h-2zM342 63.2h2v3.9h-2zM347 63.2h1v3.9h-1zM349 63.2h2v3.9h-2z" fill="#0b960b" fill-opacity="0.77"/>
<path d="M178 15.5h1v3.5h-1zM242 15.5h1v3.5h-1zM250 15.5h2v3.5h-2zM261 15.5h1v3.5h-1zM242 20.8h1v3.5h-1zM248 20.8h1v3.5h-1zM250 20.8h1v3.5h-1zM252 20.8h1v3.5h-1zM280 20.8h1v3.5h-1zM283 20.8h1v3.5h-1zM178 26.1h1v3.5h-1zM242 26.1h1v3.5h-1zM244 26.1h1v3.5h-1zM248 26.1h1v3.5h-1zM255 26.1h1v3.5h-1zM261 26.1h1v3.5h-1zM284 26.1h1v3.5h-1zM297 26.1h1v3.5h-1zM351 26.1h1v3.5h-1zM243 31.4h1v3.5h-1zM245 31.4h1v3.5h-1zM251 31.4h1v3.5h-1zM283 31.4h1v3.5h-1zM351 31.4h1v3.5h-1zM242 36.7h2v3.5h-2zM248 36.7h1v3.5h-1zM251 36.7h2v3.5h-2zM280 36.7h2v3.5h-2zM283 36.7h1v3.5h-1zM297 36.7h1v3.5h-1zM351 36.7h1v3.5h-1zM252 42.0h1v3.5h-1zM258 42.0h1v3.5h-1zM261 42.0h1v3.5h-1zM280 42.0h1v3.5h-1zM283 42.0h2v3.5h-2zM297 42.0h1v3.5h-1zM351 42.0h1v3.5h-1zM178 47.3h1v3.5h-1zM245 47.3h2v3.5h-2zM252 47.3h2v3.5h-2zM256 47.3h1v3.5h-1zM281 47.3h1v3.5h-1zM287 47.3h1v3.5h-1zM244 52.6h1v3.5h-1zM248 52.6h1v3.5h-1zM256 52.6h1v3.5h-1zM261 52.6h1v3.5h-1zM280 52.6h2v3.5h-2zM284 52.6h2v3.5h-2zM287 52.6h1v3.5h-1zM297 52.6h1v3.5h-1zM340 52.6h1v3.5h-1zM247 57.9h1v3.5h-1zM249 57.9h1v3.5h-1zM253 57.9h1v3.5h-1zM257 57.9h1v3.5h-1zM279 57.9h1v3.5h-1zM286 57.9h1v3.5h-1zM289 57.9h1v3.5h-1zM294 57.9h1v3.5h-1zM309 57.9h1v3.5h-1zM321 57.9h1v3.5h-1zM80 63.2h1v3.9h-1zM83 63.2h1v3.9h-1zM85 63.2h1v3.9h-1zM88 63.2h1v3.9h-1zM90 63.2h2v3.9h-2zM94 63.2h1v3.9h-1zM97 63.2h1v3.9h-1zM100 63.2h1v3.9h-1zM105 63.2h1v3.9h-1zM109 63.2h1v3.9h-1zM114 63.2h2v3.9h-2zM118 63.2h1v3.9h-1zM120 63.2h1v3.9h-1zM123 63.2h1v3.9h-1zM125 63.2h1v3.9h-1zM128 63.2h1v3.9h-1zM145 63.2h1v3.9h-1zM148 63.2h4v3.9h-4zM155 63.2h1v3.9h-1zM157 63.2h1v3.9h-1zM162 63.2h2v3.9h-2zM165 63.2h1v3.9h-1zM168 63.2h2v3.9h-2zM171 63.2h1v3.9h-1zM175 63.2h1v3.9h-1zM182 63.2h1v3.9h-1zM184 63.2h1v3.9h-1zM187 63.2h1v3.9h-1zM189 63.2h1v3.9h-1zM193 63.2h3v3.9h-3zM197 63.2h1v3.9h-1zM200 63.2h1v3.9h-1zM202 63.2h3v3.9h-3zM215 63.2h1v3.9h-1zM229 63.2h1v3.9h-1zM232 63.2h1v3.9h-1zM236 63.2h1v3.9h-1zM238 63.2h1v3.9h-1zM241 63.2h1v3.9h-1zM254 63.2h1v3.9h-1zM259 63.2h1v3.9h-1zM266 63.2h4v3.9h-4zM271 63.2h1v3.9h-1zM273 63.2h1v3.9h-1zM289 63.2h2v3.9h-2zM303 63.2h1v3.9h-1zM306 63.2h1v3.9h-1zM318 63.2h1v3.9h-1zM322 63.2h1v3.9h-1zM328 63.2h2v3.9h-2zM331 63.2h1v3.9h-1zM334 63.2h2v3.9h-2zM341 63.2h1v3.9h-1zM345 63.2h2v3.9h-2zM348 63.2h1v3.9h-1z" fill="#0b960b" fill-opacity="0.9"/>
<path d="M284 36.7h1v3.5h-1zM248 42.0h1v3.5h-1zM242 47.3h3v3.5h-3zM250 47.3h1v3.5h-1zM283 47.3h2v3.5h-2zM286 47.3h1v3.5h-1zM297 47.3h1v3.5h-1zM178 52.6h1v3.5h-1zM243 52.6h1v3.5h-1zM245 52.6h2v3.5h-2zM252 52.6h2v3.5h-2zM286 52.6h1v3.5h-1zM288 52.6h1v3.5h-1zM291 52.6h1v3.5h-1zM294 52.6h1v3.5h-1zM351 52.6h1v3.5h-1zM178 57.9h1v3.5h-1zM227 57.9h1v3.5h-1zM242 57.9h5v3.5h-5zM248 57.9h1v3.5h-1zM250 57.9h3v3.5h-3zM255 57.9h2v3.5h-2zM258 57.9h1v3.5h-1zM260 57.9h3v3.5h-3zM280 57.9h2v3.5h-2zM283 57.9h3v3.5h-3zM287 57.9h2v3.5h-2zM291 57.9h2v3.5h-2zM295 57.9h3v3.5h-3zM314 57.9h1v3.5h-1zM351 57.9h1v3.5h-1zM178 63.2h1v3.9h-1zM227 63.2h1v3.9h-1zM240 63.2h1v3.9h-1zM242 63.2h12v3.9h-12zM255 63.2h4v3.9h-4zM260 63.2h3v3.9h-3zM279 63.2h10v3.9h-10zM291 63.2h7v3.9h-7zM305 63.2h1v3.9h-1zM309 63.2h1v3.9h-1zM314 63.2h1v3.9h-1zM321 63.2h1v3.9h-1zM324 63.2h1v3.9h-1zM326 63.2h1v3.9h-1zM330 63.2h1v3.9h-1zM340 63.2h1v3.9h-1zM344 63.2h1v3.9h-1zM351 63.2h1v3.9h-1z" fill="#0b960b" fill-opacity="1.0"/>
<path d="M96 69.2h1v3.4h-1zM174 69.2h1v3.4h-1zM180 69.2h1v3.4h-1zM96 74.5h1v3.4h-1zM180 74.5h1v3.4h-1zM241 74.5h1v3.4h-1zM297 74.5h1v3.4h-1zM180 79.9h1v3.4h-1zM194 79.9h1v3.4h-1zM96 85.2h1v3.4h-1zM174 85.2h1v3.4h-1zM194 85.2h1v3.4h-1zM297 85.2h1v3.4h-1zM96 90.5h1v3.4h-1zM174 90.5h1v3.4h-1zM180 90.5h1v3.4h-1zM194 90.5h1v3.4h-1zM241 90.5h1v3.4h-1zM241 95.8h1v3.4h-1zM297 95.8h1v3.4h-1zM297 101.2h1v3.4h-1z" fill="#555555" fill-opacity="0.07"/>
<path d="M84 69.2h1v3.4h-1zM86 69.2h1v3.4h-1zM114 69.2h1v3.4h-1zM165 69.2h1v3.4h-1zM194 69.2h1v3.4h-1zM232 69.2h1v3.4h-1zM241 69.2h1v3.4h-1zM259 69.2h1v3.4h-1zM297 69.2h1v3.4h-1zM301 69.2h1v3.4h-1zM303 69.2h1v3.4h-1zM313 69.2h1v3.4h-1zM322 69.2h1v3.4h-1zM335 69.2h1v3.4h-1zM343 69.2h1v3.4h-1zM84 74.5h1v3.4h-1zM86 74.5h1v3.4h-1zM90 74.5h1v3.4h-1zM114 74.5h1v3.4h-1zM165 74.5h1v3.4h-1zM174 74.5h1v3.4h-1zM194 74.5h1v3.4h-1zM259 74.5h1v3.4h-1zM269 74.5h1v3.4h-1zM303 74.5h1v3.4h-1zM309 74.5h1v3.4h-1zM322 74.5h1v3.4h-1zM329 74.5h1v3.4h-1zM335 74.5h1v3.4h-1zM84 79.9h1v3.4h-1zM86 79.9h1v3.4h-1zM96 79.9h1v3.4h-1zM114 79.9h1v3.4h-1zM165 79.9h1v3.4h-1zM174 79.9h1v3.4h-1zM228 79.9h1v3.4h-1zM241 79.9h1v3.4h-1zM259 79.9h1v3.4h-1zM297 79.9h1v3.4h-1zM303 79.9h1v3.4h-1zM322 79.9h1v3.4h-1zM329 79.9h1v3.4h-1zM84 85.2h1v3.4h-1zM86 85.2h1v3.4h-1zM103 85.2h1v3.4h-1zM114 85.2h1v3.4h-1zM165 85.2h1v3.4h-1zM180 85.2h1v3.4h-1zM228 85.2h1v3.4h-1zM241 85.2h1v3.4h-1zM259 85.2h1v3.4h-1zM278 85.2h1v3.4h-1zM301 85.2h1v3.4h-1zM303 85.2h1v3.4h-1zM309 85.2h1v3.4h-1zM312 85.2h1v3.4h-1zM322 85.2h1v3.4h-1zM343 85.2h1v3.4h-1zM84 90.5h1v3.4h-1zM86 90.5h1v3.4h-1zM114 90.5h1v3.4h-1zM165 90.5h1v3.4h-1zM201 90.5h1v3.4h-1zM216 90.5h1v3.4h-1zM232 90.5h1v3.4h-1zM259 90.5h1v3.4h-1zM278 90.5h1v3.4h-1zM297 90.5h1v3.4h-1zM301 90.5h1v3.4h-1zM303 90.5h1v3.4h-1zM305 90.5h1v3.4h-1zM312 90.5h2v3.4h-2zM322 90.5h1v3.4h-1zM329 90.5h1v3.4h-1zM335 90.5h1v3.4h-1zM84 95.8h1v3.4h-1zM86 95.8h1v3.4h-1zM96 95.8h1v3.4h-1zM114 95.8h1v3.4h-1zM148 95.8h1v3.4h-1zM165 95.8h1v3.4h-1zM174 95.8h1v3.4h-1zM176 95.8h1v3.4h-1zM180 95.8h1v3.4h-1zM194 95.8h1v3.4h-1zM216 95.8h1v3.4h-1zM301 95.8h1v3.4h-1zM303 95.8h1v3.4h-1zM322 95.8h1v3.4h-1zM329 95.8h1v3.4h-1zM332 95.8h1v3.4h-1zM84 101.2h1v3.4h-1zM86 101.2h1v3.4h-1zM96 101.2h1v3.4h-1zM103 101.2h1v3.4h-1zM114 101.2h1v3.4h-1zM148 101.2h1v3.4h-1zM165 101.2h1v3.4h-1zM174 101.2h1v3.4h-1zM180 101.2h1v3.4h-1zM194 101.2h1v3.4h-1zM216 101.2h1v3.4h-1zM241 101.2h1v3.4h-1zM259 101.2h1v3.4h-1zM317 101.2h1v3.4h-1zM322 101.2h1v3.4h-1zM335 101.2h1v3.4h-1zM80 106.5h1v3.4h-1zM84 106.5h1v3.4h-1zM86 106.5h3v3.4h-3zM95 106.5h2v3.4h-2zM114 106.5h1v3.4h-1zM117 106.5h1v3.4h-1zM124 106.5h1v3.4h-1zM133 106.5h1v3.4h-1zM146 106.5h1v3.4h-1zM148 106.5h1v3.4h-1zM174 106.5h1v3.4h-1zM180 106.5h1v3.4h-1zM184 106.5h1v3.4h-1zM194 106.5h3v3.4h-3zM202 106.5h1v3.4h-1zM206 106.5h1v3.4h-1zM211 106.5h1v3.4h-1zM216 106.5h1v3.4h-1zM219 106.5h1v3.4h-1zM229 106.5h1v3.4h-1zM241 106.5h2v3.4h-2zM244 106.5h1v3.4h-1zM247 106.5h1v3.4h-1zM259 106.5h1v3.4h-1zM281 106.5h1v3.4h-1zM284 106.5h1v3.4h-1zM289 106.5h1v3.4h-1zM297 106.5h1v3.4h-1zM305 106.5h1v3.4h-1zM309 106.5h1v3.4h-1zM317 106.5h1v3.4h-1zM322 106.5h1v3.4h-1zM332 106.5h1v3.4h-1zM340 106.5h1v3.4h-1zM348 106.5h1v3.4h-1zM114 111.8h1v3.4h-1zM148 111.8h1v3.4h-1zM272 111.8h1v3.4h-1z" fill="#555555" fill-opacity="0.14"/>
<path d="M90 69.2h1v3.4h-1zM103 69.2h2v3.4h-2zM135 69.2h1v3.4h-1zM137 69.2h1v3.4h-1zM149 69.2h1v3.4h-1zM201 69.2h1v3.4h-1zM221 69.2h1v3.4h-1zM225 69.2h1v3.4h-1zM228 69.2h1v3.4h-1zM234 69.2h1v3.4h-1zM263 69.2h1v3.4h-1zM269 69.2h1v3.4h-1zM271 69.2h1v3.4h-1zM291 69.2h1v3.4h-1zM295 69.2h1v3.4h-1zM298 69.2h1v3.4h-1zM309 69.2h1v3.4h-1zM312 69.2h1v3.4h-1zM329 69.2h1v3.4h-1zM345 69.2h1v3.4h-1zM103 74.5h2v3.4h-2zM135 74.5h1v3.4h-1zM149 74.5h1v3.4h-1zM201 74.5h1v3.4h-1zM204 74.5h1v3.4h-1zM210 74.5h1v3.4h-1zM221 74.5h1v3.4h-1zM225 74.5h1v3.4h-1zM228 74.5h1v3.4h-1zM232 74.5h1v3.4h-1zM234 74.5h1v3.4h-1zM263 74.5h1v3.4h-1zM268 74.5h1v3.4h-1zM271 74.5h1v3.4h-1zM295 74.5h1v3.4h-1zM301 74.5h1v3.4h-1zM312 74.5h2v3.4h-2zM343 74.5h1v3.4h-1zM345 74.5h1v3.4h-1zM90 79.9h1v3.4h-1zM103 79.9h2v3.4h-2zM135 79.9h1v3.4h-1zM139 79.9h1v3.4h-1zM149 79.9h1v3.4h-1zM201 79.9h1v3.4h-1zM204 79.9h1v3.4h-1zM210 79.9h1v3.4h-1zM221 79.9h1v3.4h-1zM225 79.9h1v3.4h-1zM232 79.9h1v3.4h-1zM234 79.9h2v3.4h-2zM263 79.9h1v3.4h-1zM269 79.9h1v3.4h-1zM271 79.9h1v3.4h-1zM295 79.9h1v3.4h-1zM301 79.9h1v3.4h-1zM309 79.9h1v3.4h-1zM312 79.9h2v3.4h-2zM335 79.9h1v3.4h-1zM343 79.9h1v3.4h-1zM90 85.2h1v3.4h-1zM104 85.2h1v3.4h-1zM135 85.2h1v3.4h-1zM137 85.2h1v3.4h-1zM149 85.2h1v3.4h-1zM168 85.2h1v3.4h-1zM182 85.2h1v3.4h-1zM193 85.2h1v3.4h-1zM201 85.2h1v3.4h-1zM204 85.2h1v3.4h-1zM221 85.2h1v3.4h-1zM232 85.2h1v3.4h-1zM234 85.2h2v3.4h-2zM263 85.2h1v3.4h-1zM269 85.2h1v3.4h-1zM271 85.2h1v3.4h-1zM290 85.2h1v3.4h-1zM295 85.2h1v3.4h-1zM305 85.2h1v3.4h-1zM313 85.2h1v3.4h-1zM329 85.2h1v3.4h-1zM335 85.2h1v3.4h-1zM345 85.2h1v3.4h-1zM90 90.5h1v3.4h-1zM92 90.5h1v3.4h-1zM103 90.5h2v3.4h-2zM118 90.5h1v3.4h-1zM135 90.5h1v3.4h-1zM137 90.5h1v3.4h-1zM149 90.5h1v3.4h-1zM168 90.5h1v3.4h-1zM204 90.5h1v3.4h-1zM221 90.5h1v3.4h-1zM228 90.5h1v3.4h-1zM234 90.5h1v3.4h-1zM263 90.5h1v3.4h-1zM269 90.5h1v3.4h-1zM271 90.5h1v3.4h-1zM287 90.5h1v3.4h-1zM295 90.5h2v3.4h-2zM309 90.5h1v3.4h-1zM343 90.5h1v3.4h-1zM345 90.5h1v3.4h-1zM90 95.8h1v3.4h-1zM103 95.8h2v3.4h-2zM118 95.8h1v3.4h-1zM149 95.8h1v3.4h-1zM201 95.8h1v3.4h-1zM210 95.8h1v3.4h-1zM221 95.8h1v3.4h-1zM228 95.8h1v3.4h-1zM232 95.8h1v3.4h-1zM234 95.8h1v3.4h-1zM259 95.8h1v3.4h-1zM263 95.8h1v3.4h-1zM269 95.8h1v3.4h-1zM271 95.8h1v3.4h-1zM278 95.8h1v3.4h-1zM298 95.8h1v3.4h-1zM305 95.8h1v3.4h-1zM309 95.8h1v3.4h-1zM312 95.8h2v3.4h-2zM335 95.8h1v3.4h-1zM343 95.8h1v3.4h-1zM90 101.2h1v3.4h-1zM92 101.2h1v3.4h-1zM98 101.2h1v3.4h-1zM104 101.2h1v3.4h-1zM118 101.2h1v3.4h-1zM135 101.2h1v3.4h-1zM176 101.2h1v3.4h-1zM201 101.2h1v3.4h-1zM213 101.2h1v3.4h-1zM221 101.2h1v3.4h-1zM225 101.2h1v3.4h-1zM228 101.2h1v3.4h-1zM232 101.2h1v3.4h-1zM269 101.2h1v3.4h-1zM271 101.2h1v3.4h-1zM278 101.2h1v3.4h-1zM287 101.2h1v3.4h-1zM301 101.2h1v3.4h-1zM303 101.2h1v3.4h-1zM305 101.2h1v3.4h-1zM307 101.2h1v3.4h-1zM309 101.2h1v3.4h-1zM312 101.2h2v3.4h-2zM329 101.2h1v3.4h-1zM332 101.2h1v3.4h-1zM343 101.2h1v3.4h-1zM83 106.5h1v3.4h-1zM85 106.5h1v3.4h-1zM90 106.5h1v3.4h-1zM103 106.5h2v3.4h-2zM118 106.5h1v3.4h-1zM165 106.5h1v3.4h-1zM175 106.5h2v3.4h-2zM201 106.5h1v3.4h-1zM213 106.5h1v3.4h-1zM215 106.5h1v3.4h-1zM221 106.5h1v3.4h-1zM224 106.5h1v3.4h-1zM232 106.5h1v3.4h-1zM237 106.5h1v3.4h-1zM252 106.5h1v3.4h-1zM262 106.5h1v3.4h-1zM265 106.5h2v3.4h-2zM269 106.5h1v3.4h-1zM278 106.5h1v3.4h-1zM301 106.5h1v3.4h-1zM303 106.5h1v3.4h-1zM311 106.5h1v3.4h-1zM329 106.5h1v3.4h-1zM333 106.5h1v3.4h-1zM335 106.5h1v3.4h-1zM341 106.5h1v3.4h-1zM343 106.5h1v3.4h-1zM80 111.8h2v3.4h-2zM83 111.8h2v3.4h-2zM86 111.8h2v3.4h-2zM96 111.8h1v3.4h-1zM101 111.8h1v3.4h-1zM116 111.8h1v3.4h-1zM122 111.8h1v3.4h-1zM125 111.8h1v3.4h-1zM130 111.8h2v3.4h-2zM151 111.8h1v3.4h-1zM154 111.8h2v3.4h-2zM162 111.8h1v3.4h-1zM169 111.8h1v3.4h-1zM172 111.8h1v3.4h-1zM188 111.8h2v3.4h-2zM200 111.8h1v3.4h-1zM206 111.8h1v3.4h-1zM208 111.8h2v3.4h-2zM215 111.8h2v3.4h-2zM227 111.8h1v3.4h-1zM241 111.8h1v3.4h-1zM245 111.8h1v3.4h-1zM248 111.8h2v3.4h-2zM257 111.8h1v3.4h-1zM259 111.8h1v3.4h-1zM262 111.8h1v3.4h-1zM276 111.8h1v3.4h-1zM283 111.8h2v3.4h-2zM288 111.8h1v3.4h-1zM297 111.8h1v3.4h-1zM300 111.8h1v3.4h-1zM305 111.8h1v3.4h-1zM308 111.8h1v3.4h-1zM317 111.8h1v3.4h-1zM320 111.8h2v3.4h-2zM323 111.8h1v3.4h-1zM334 111.8h1v3.4h-1zM340 111.8h1v3.4h-1zM342 111.8h1v3.4h-1zM344 111.8h1v3.4h-1zM348 111.8h1v3.4h-1zM350 111.8h2v3.4h-2z" fill="#555555" fill-opacity="0.22"/>
<path d="M120 69.2h1v3.4h-1zM123 69.2h1v3.4h-1zM159 69.2h1v3.4h-1zM168 69.2h1v3.4h-1zM182 69.2h1v3.4h-1zM193 69.2h1v3.4h-1zM204 69.2h2v3.4h-2zM210 69.2h1v3.4h-1zM235 69.2h1v3.4h-1zM268 69.2h1v3.4h-1zM120 74.5h1v3.4h-1zM123 74.5h1v3.4h-1zM137 74.5h1v3.4h-1zM159 74.5h1v3.4h-1zM168 74.5h1v3.4h-1zM182 74.5h1v3.4h-1zM193 74.5h1v3.4h-1zM205 74.5h1v3.4h-1zM235 74.5h1v3.4h-1zM291 74.5h1v3.4h-1zM298 74.5h1v3.4h-1zM120 79.9h1v3.4h-1zM123 79.9h1v3.4h-1zM137 79.9h1v3.4h-1zM159 79.9h1v3.4h-1zM168 79.9h1v3.4h-1zM182 79.9h1v3.4h-1zM205 79.9h1v3.4h-1zM268 79.9h1v3.4h-1zM291 79.9h1v3.4h-1zM298 79.9h1v3.4h-1zM345 79.9h1v3.4h-1zM92 85.2h1v3.4h-1zM123 85.2h1v3.4h-1zM136 85.2h1v3.4h-1zM139 85.2h1v3.4h-1zM159 85.2h1v3.4h-1zM205 85.2h1v3.4h-1zM210 85.2h1v3.4h-1zM225 85.2h1v3.4h-1zM268 85.2h1v3.4h-1zM291 85.2h1v3.4h-1zM298 85.2h1v3.4h-1zM120 90.5h1v3.4h-1zM123 90.5h1v3.4h-1zM136 90.5h1v3.4h-1zM139 90.5h1v3.4h-1zM159 90.5h1v3.4h-1zM182 90.5h1v3.4h-1zM193 90.5h1v3.4h-1zM205 90.5h1v3.4h-1zM210 90.5h1v3.4h-1zM225 90.5h1v3.4h-1zM235 90.5h1v3.4h-1zM268 90.5h1v3.4h-1zM290 90.5h2v3.4h-2zM298 90.5h1v3.4h-1zM349 90.5h1v3.4h-1zM92 95.8h1v3.4h-1zM123 95.8h1v3.4h-1zM132 95.8h1v3.4h-1zM135 95.8h3v3.4h-3zM139 95.8h1v3.4h-1zM159 95.8h1v3.4h-1zM168 95.8h1v3.4h-1zM182 95.8h1v3.4h-1zM193 95.8h1v3.4h-1zM199 95.8h1v3.4h-1zM204 95.8h2v3.4h-2zM225 95.8h1v3.4h-1zM243 95.8h1v3.4h-1zM287 95.8h1v3.4h-1zM290 95.8h2v3.4h-2zM295 95.8h2v3.4h-2zM345 95.8h1v3.4h-1zM349 95.8h1v3.4h-1zM120 101.2h1v3.4h-1zM123 101.2h1v3.4h-1zM132 101.2h1v3.4h-1zM136 101.2h2v3.4h-2zM140 101.2h1v3.4h-1zM149 101.2h1v3.4h-1zM159 101.2h1v3.4h-1zM182 101.2h1v3.4h-1zM199 101.2h1v3.4h-1zM204 101.2h2v3.4h-2zM210 101.2h1v3.4h-1zM234 101.2h1v3.4h-1zM263 101.2h1v3.4h-1zM268 101.2h1v3.4h-1zM290 101.2h2v3.4h-2zM295 101.2h2v3.4h-2zM298 101.2h1v3.4h-1zM349 101.2h1v3.4h-1zM98 106.5h1v3.4h-1zM120 106.5h1v3.4h-1zM123 106.5h1v3.4h-1zM135 106.5h2v3.4h-2zM139 106.5h2v3.4h-2zM149 106.5h1v3.4h-1zM159 106.5h1v3.4h-1zM168 106.5h1v3.4h-1zM193 106.5h1v3.4h-1zM199 106.5h1v3.4h-1zM204 106.5h1v3.4h-1zM210 106.5h1v3.4h-1zM225 106.5h1v3.4h-1zM228 106.5h1v3.4h-1zM234 106.5h1v3.4h-1zM263 106.5h1v3.4h-1zM271 106.5h1v3.4h-1zM287 106.5h1v3.4h-1zM291 106.5h1v3.4h-1zM295 106.5h2v3.4h-2zM298 106.5h1v3.4h-1zM307 106.5h1v3.4h-1zM312 106.5h2v3.4h-2zM345 106.5h1v3.4h-1zM79 111.8h1v3.4h-1zM82 111.8h1v3.4h-1zM90 111.8h1v3.4h-1zM95 111.8h1v3.4h-1zM102 111.8h2v3.4h-2zM105 111.8h1v3.4h-1zM107 111.8h1v3.4h-1zM110 111.8h1v3.4h-1zM112 111.8h1v3.4h-1zM117 111.8h2v3.4h-2zM121 111.8h1v3.4h-1zM134 111.8h1v3.4h-1zM138 111.8h1v3.4h-1zM144 111.8h1v3.4h-1zM152 111.8h1v3.4h-1zM160 111.8h1v3.4h-1zM165 111.8h1v3.4h-1zM174 111.8h1v3.4h-1zM176 111.8h1v3.4h-1zM178 111.8h1v3.4h-1zM180 111.8h2v3.4h-2zM183 111.8h1v3.4h-1zM194 111.8h2v3.4h-2zM201 111.8h1v3.4h-1zM210 111.8h3v3.4h-3zM217 111.8h1v3.4h-1zM219 111.8h1v3.4h-1zM221 111.8h1v3.4h-1zM228 111.8h2v3.4h-2zM232 111.8h1v3.4h-1zM234 111.8h1v3.4h-1zM236 111.8h1v3.4h-1zM238 111.8h1v3.4h-1zM242 111.8h1v3.4h-1zM244 111.8h1v3.4h-1zM252 111.8h1v3.4h-1zM254 111.8h1v3.4h-1zM263 111.8h1v3.4h-1zM271 111.8h1v3.4h-1zM273 111.8h1v3.4h-1zM275 111.8h1v3.4h-1zM278 111.8h3v3.4h-3zM282 111.8h1v3.4h-1zM294 111.8h2v3.4h-2zM301 111.8h1v3.4h-1zM303 111.8h1v3.4h-1zM307 111.8h1v3.4h-1zM309 111.8h1v3.4h-1zM312 111.8h2v3.4h-2zM322 111.8h1v3.4h-1zM329 111.8h1v3.4h-1zM332 111.8h2v3.4h-2zM335 111.8h2v3.4h-2zM341 111.8h1v3.4h-1zM343 111.8h1v3.4h-1zM346 111.8h1v3.4h-1zM83 117.2h1v3.4h-1zM103 117.2h1v3.4h-1z" fill="#555555" fill-opacity="0.31"/>
<path d="M193 79.9h1v3.4h-1zM120 85.2h1v3.4h-1zM120 95.8h1v3.4h-1zM235 95.8h1v3.4h-1zM268 95.8h1v3.4h-1zM139 101.2h1v3.4h-1zM168 101.2h1v3.4h-1zM193 101.2h1v3.4h-1zM235 101.2h1v3.4h-1zM243 101.2h1v3.4h-1zM345 101.2h1v3.4h-1zM92 106.5h1v3.4h-1zM132 106.5h1v3.4h-1zM137 106.5h1v3.4h-1zM182 106.5h1v3.4h-1zM205 106.5h1v3.4h-1zM235 106.5h1v3.4h-1zM243 106.5h1v3.4h-1zM268 106.5h1v3.4h-1zM290 106.5h1v3.4h-1zM349 106.5h1v3.4h-1zM98 111.8h1v3.4h-1zM104 111.8h1v3.4h-1zM120 111.8h1v3.4h-1zM135 111.8h1v3.4h-1zM139 111.8h2v3.4h-2zM149 111.8h1v3.4h-1zM153 111.8h1v3.4h-1zM159 111.8h1v3.4h-1zM182 111.8h1v3.4h-1zM203 111.8h2v3.4h-2zM213 111.8h1v3.4h-1zM225 111.8h1v3.4h-1zM250 111.8h1v3.4h-1zM260 111.8h1v3.4h-1zM265 111.8h1v3.4h-1zM269 111.8h1v3.4h-1zM277 111.8h1v3.4h-1zM281 111.8h1v3.4h-1zM287 111.8h1v3.4h-1zM298 111.8h1v3.4h-1zM302 111.8h1v3.4h-1zM328 111.8h1v3.4h-1zM269 117.2h1v3.4h-1zM313 117.2h1v3.4h-1z" fill="#555555" fill-opacity="0.41"/>
<path d="M156 106.5h1v3.4h-1zM92 111.8h1v3.4h-1zM108 111.8h1v3.4h-1zM123 111.8h1v3.4h-1zM132 111.8h1v3.4h-1zM136 111.8h2v3.4h-2zM156 111.8h1v3.4h-1zM158 111.8h1v3.4h-1zM168 111.8h1v3.4h-1zM177 111.8h1v3.4h-1zM193 111.8h1v3.4h-1zM197 111.8h1v3.4h-1zM199 111.8h1v3.4h-1zM205 111.8h1v3.4h-1zM235 111.8h1v3.4h-1zM243 111.8h1v3.4h-1zM268 111.8h1v3.4h-1zM290 111.8h2v3.4h-2zM296 111.8h1v3.4h-1zM345 111.8h1v3.4h-1zM349 111.8h1v3.4h-1zM98 117.2h1v3.4h-1zM105 117.2h1v3.4h-1zM109 117.2h1v3.4h-1zM115 117.2h1v3.4h-1zM129 117.2h1v3.4h-1zM133 117.2h1v3.4h-1zM140 117.2h1v3.4h-1zM162 117.2h1v3.4h-1zM217 117.2h1v3.4h-1zM228 117.2h1v3.4h-1zM243 117.2h1v3.4h-1zM255 117.2h1v3.4h-1zM258 117.2h1v3.4h-1zM270 117.2h1v3.4h-1zM280 117.2h1v3.4h-1zM296 117.2h1v3.4h-1zM300 117.2h2v3.4h-2zM309 117.2h1v3.4h-1zM311 117.2h2v3.4h-2zM318 117.2h1v3.4h-1zM323 117.2h1v3.4h-1zM325 117.2h1v3.4h-1zM330 117.2h1v3.4h-1z" fill="#555555" fill-opacity="0.52"/>
<path d="M111 111.8h1v3.4h-1zM82 117.2h1v3.4h-1zM84 117.2h1v3.4h-1zM86 117.2h3v3.4h-3zM90 117.2h7v3.4h-7zM101 117.2h2v3.4h-2zM104 117.2h1v3.4h-1zM106 117.2h3v3.4h-3zM112 117.2h1v3.4h-1zM114 117.2h1v3.4h-1zM116 117.2h1v3.4h-1zM118 117.2h4v3.4h-4zM123 117.2h5v3.4h-5zM131 117.2h1v3.4h-1zM136 117.2h4v3.4h-4zM141 117.2h2v3.4h-2zM144 117.2h1v3.4h-1zM149 117.2h3v3.4h-3zM157 117.2h3v3.4h-3zM161 117.2h1v3.4h-1zM163 117.2h5v3.4h-5zM169 117.2h2v3.4h-2zM172 117.2h1v3.4h-1zM178 117.2h1v3.4h-1zM181 117.2h1v3.4h-1zM184 117.2h3v3.4h-3zM188 117.2h5v3.4h-5zM195 117.2h1v3.4h-1zM197 117.2h3v3.4h-3zM201 117.2h2v3.4h-2zM204 117.2h1v3.4h-1zM206 117.2h2v3.4h-2zM209 117.2h3v3.4h-3zM213 117.2h1v3.4h-1zM215 117.2h2v3.4h-2zM222 117.2h1v3.4h-1zM226 117.2h1v3.4h-1zM232 117.2h3v3.4h-3zM236 117.2h1v3.4h-1zM239 117.2h1v3.4h-1zM241 117.2h1v3.4h-1zM244 117.2h2v3.4h-2zM247 117.2h6v3.4h-6zM256 117.2h2v3.4h-2zM259 117.2h1v3.4h-1zM261 117.2h1v3.4h-1zM264 117.2h2v3.4h-2zM267 117.2h1v3.4h-1zM272 117.2h1v3.4h-1zM277 117.2h2v3.4h-2zM281 117.2h1v3.4h-1zM283 117.2h5v3.4h-5zM289 117.2h2v3.4h-2zM292 117.2h3v3.4h-3zM299 117.2h1v3.4h-1zM303 117.2h1v3.4h-1zM306 117.2h2v3.4h-2zM310 117.2h1v3.4h-1zM314 117.2h1v3.4h-1zM317 117.2h1v3.4h-1zM321 117.2h2v3.4h-2zM326 117.2h4v3.4h-4zM331 117.2h5v3.4h-5zM338 117.2h2v3.4h-2zM341 117.2h1v3.4h-1zM343 117.2h3v3.4h-3zM348 117.2h1v3.4h-1z" fill="#555555" fill-opacity="0.64"/>
<path d="M80 117.2h2v3.4h-2zM85 117.2h1v3.4h-1zM89 117.2h1v3.4h-1zM99 117.2h1v3.4h-1zM110 117.2h2v3.4h-2zM122 117.2h1v3.4h-1zM128 117.2h1v3.4h-1zM130 117.2h1v3.4h-1zM132 117.2h1v3.4h-1zM134 117.2h2v3.4h-2zM143 117.2h1v3.4h-1zM146 117.2h3v3.4h-3zM152 117.2h2v3.4h-2zM155 117.2h1v3.4h-1zM160 117.2h1v3.4h-1zM168 117.2h1v3.4h-1zM171 117.2h1v3.4h-1zM173 117.2h5v3.4h-5zM179 117.2h2v3.4h-2zM182 117.2h2v3.4h-2zM187 117.2h1v3.4h-1zM193 117.2h2v3.4h-2zM196 117.2h1v3.4h-1zM200 117.2h1v3.4h-1zM203 117.2h1v3.4h-1zM205 117.2h1v3.4h-1zM208 117.2h1v3.4h-1zM212 117.2h1v3.4h-1zM218 117.2h4v3.4h-4zM223 117.2h3v3.4h-3zM227 117.2h1v3.4h-1zM229 117.2h3v3.4h-3zM235 117.2h1v3.4h-1zM238 117.2h1v3.4h-1zM240 117.2h1v3.4h-1zM242 117.2h1v3.4h-1zM246 117.2h1v3.4h-1zM260 117.2h1v3.4h-1zM263 117.2h1v3.4h-1zM266 117.2h1v3.4h-1zM268 117.2h1v3.4h-1zM271 117.2h1v3.4h-1zM273 117.2h4v3.4h-4zM279 117.2h1v3.4h-1zM282 117.2h1v3.4h-1zM288 117.2h1v3.4h-1zM291 117.2h1v3.4h-1zM295 117.2h1v3.4h-1zM297 117.2h2v3.4h-2zM302 117.2h1v3.4h-1zM304 117.2h2v3.4h-2zM308 117.2h1v3.4h-1zM315 117.2h1v3.4h-1zM319 117.2h2v3.4h-2zM336 117.2h2v3.4h-2zM346 117.2h2v3.4h-2zM349 117.2h3v3.4h-3z" fill="#555555" fill-opacity="0.77"/>
<path d="M156 117.2h1v3.4h-1z" fill="#555555" fill-opacity="0.9"/>
<path d="M81 122.5h1v3.5h-1zM89 122.5h1v3.5h-1zM109 122.5h1v3.5h-1zM112 122.5h1v3.5h-1zM118 122.5h1v3.5h-1zM127 122.5h2v3.5h-2zM136 122.5h1v3.5h-1zM141 122.5h1v3.5h-1zM154 122.5h1v3.5h-1zM179 122.5h1v3.5h-1zM187 122.5h1v3.5h-1zM207 122.5h1v3.5h-1zM211 122.5h2v3.5h-2zM217 122.5h1v3.5h-1zM228 122.5h1v3.5h-1zM232 122.5h1v3.5h-1zM272 122.5h1v3.5h-1zM302 122.5h1v3.5h-1zM338 122.5h1v3.5h-1zM350 122.5h2v3.5h-2zM81 127.8h1v3.5h-1zM89 127.8h1v3.5h-1zM93 127.8h1v3.5h-1zM109 127.8h1v3.5h-1zM112 127.8h1v3.5h-1zM118 127.8h1v3.5h-1zM128 127.8h1v3.5h-1zM154 127.8h1v3.5h-1zM172 127.8h1v3.5h-1zM187 127.8h1v3.5h-1zM207 127.8h1v3.5h-1zM211 127.8h2v3.5h-2zM228 127.8h1v3.5h-1zM232 127.8h1v3.5h-1zM338 127.8h1v3.5h-1zM351 127.8h1v3.5h-1zM81 133.2h1v3.5h-1zM89 133.2h1v3.5h-1zM93 133.2h1v3.5h-1zM109 133.2h1v3.5h-1zM112 133.2h1v3.5h-1zM118 133.2h1v3.5h-1zM127 133.2h2v3.5h-2zM136 133.2h1v3.5h-1zM154 133.2h1v3.5h-1zM179 133.2h1v3.5h-1zM187 133.2h1v3.5h-1zM207 133.2h1v3.5h-1zM211 133.2h2v3.5h-2zM228 133.2h1v3.5h-1zM232 133.2h1v3.5h-1zM256 133.2h1v3.5h-1zM311 133.2h1v3.5h-1zM338 133.2h1v3.5h-1zM350 133.2h2v3.5h-2zM81 138.5h1v3.5h-1zM89 138.5h1v3.5h-1zM93 138.5h1v3.5h-1zM109 138.5h1v3.5h-1zM112 138.5h1v3.5h-1zM118 138.5h1v3.5h-1zM128 138.5h1v3.5h-1zM136 138.5h1v3.5h-1zM154 138.5h1v3.5h-1zM159 138.5h1v3.5h-1zM179 138.5h1v3.5h-1zM187 138.5h1v3.5h-1zM207 138.5h1v3.5h-1zM211 138.5h2v3.5h-2zM228 138.5h1v3.5h-1zM232 138.5h1v3.5h-1zM241 138.5h1v3.5h-1zM277 138.5h1v3.5h-1zM311 138.5h1v3.5h-1zM338 138.5h1v3.5h-1zM350 138.5h2v3.5h-2zM81 143.8h1v3.5h-1zM89 143.8h1v3.5h-1zM109 143.8h1v3.5h-1zM112 143.8h1v3.5h-1zM118 143.8h1v3.5h-1zM159 143.8h1v3.5h-1zM172 143.8h1v3.5h-1zM187 143.8h1v3.5h-1zM207 143.8h1v3.5h-1zM211 143.8h2v3.5h-2zM228 143.8h1v3.5h-1zM232 143.8h1v3.5h-1zM247 143.8h1v3.5h-1zM311 143.8h1v3.5h-1zM338 143.8h1v3.5h-1zM351 143.8h1v3.5h-1zM81 149.2h1v3.5h-1zM89 149.2h1v3.5h-1zM112 149.2h1v3.5h-1zM118 149.2h1v3.5h-1zM128 149.2h1v3.5h-1zM154 149.2h1v3.5h-1zM211 149.2h2v3.5h-2zM228 149.2h1v3.5h-1zM232 149.2h1v3.5h-1zM311 149.2h1v3.5h-1zM338 149.2h1v3.5h-1zM112 154.5h1v3.5h-1zM118 154.5h1v3.5h-1zM154 154.5h1v3.5h-1zM207 154.5h1v3.5h-1zM211 154.5h2v3.5h-2zM303 154.5h1v3.5h-1zM332 154.5h1v3.5h-1zM338 154.5h1v3.5h-1zM109 159.8h1v3.5h-1zM112 159.8h1v3.5h-1zM332 159.8h1v3.5h-1z" fill="#ff6410" fill-opacity="0.14"/>
<path d="M93 122.5h1v3.5h-1zM100 122.5h2v3.5h-2zM104 122.5h1v3.5h-1zM114 122.5h2v3.5h-2zM122 122.5h1v3.5h-1zM126 122.5h1v3.5h-1zM157 122.5h3v3.5h-3zM163 122.5h1v3.5h-1zM181 122.5h1v3.5h-1zM199 122.5h1v3.5h-1zM201 122.5h1v3.5h-1zM206 122.5h1v3.5h-1zM208 122.5h2v3.5h-2zM220 122.5h1v3.5h-1zM240 122.5h2v3.5h-2zM253 122.5h1v3.5h-1zM256 122.5h1v3.5h-1zM261 122.5h1v3.5h-1zM263 122.5h1v3.5h-1zM268 122.5h1v3.5h-1zM270 122.5h2v3.5h-2zM277 122.5h1v3.5h-1zM282 122.5h1v3.5h-1zM296 122.5h2v3.5h-2zM307 122.5h1v3.5h-1zM331 122.5h1v3.5h-1zM82 127.8h1v3.5h-1zM101 127.8h1v3.5h-1zM104 127.8h1v3.5h-1zM114 127.8h2v3.5h-2zM122 127.8h1v3.5h-1zM127 127.8h1v3.5h-1zM136 127.8h1v3.5h-1zM141 127.8h1v3.5h-1zM143 127.8h1v3.5h-1zM145 127.8h1v3.5h-1zM150 127.8h1v3.5h-1zM157 127.8h3v3.5h-3zM163 127.8h1v3.5h-1zM179 127.8h1v3.5h-1zM181 127.8h1v3.5h-1zM191 127.8h1v3.5h-1zM199 127.8h1v3.5h-1zM201 127.8h1v3.5h-1zM206 127.8h1v3.5h-1zM208 127.8h2v3.5h-2zM217 127.8h1v3.5h-1zM220 127.8h1v3.5h-1zM240 127.8h2v3.5h-2zM246 127.8h2v3.5h-2zM256 127.8h1v3.5h-1zM261 127.8h3v3.5h-3zM268 127.8h1v3.5h-1zM270 127.8h3v3.5h-3zM276 127.8h2v3.5h-2zM282 127.8h1v3.5h-1zM296 127.8h2v3.5h-2zM302 127.8h1v3.5h-1zM307 127.8h1v3.5h-1zM325 127.8h1v3.5h-1zM331 127.8h1v3.5h-1zM346 127.8h1v3.5h-1zM350 127.8h1v3.5h-1zM82 133.2h1v3.5h-1zM95 133.2h1v3.5h-1zM104 133.2h1v3.5h-1zM114 133.2h1v3.5h-1zM122 133.2h1v3.5h-1zM126 133.2h1v3.5h-1zM141 133.2h1v3.5h-1zM143 133.2h1v3.5h-1zM145 133.2h1v3.5h-1zM157 133.2h1v3.5h-1zM159 133.2h1v3.5h-1zM163 133.2h2v3.5h-2zM167 133.2h1v3.5h-1zM172 133.2h1v3.5h-1zM181 133.2h1v3.5h-1zM191 133.2h1v3.5h-1zM201 133.2h1v3.5h-1zM206 133.2h1v3.5h-1zM208 133.2h2v3.5h-2zM217 133.2h1v3.5h-1zM220 133.2h1v3.5h-1zM240 133.2h3v3.5h-3zM246 133.2h2v3.5h-2zM251 133.2h1v3.5h-1zM268 133.2h1v3.5h-1zM270 133.2h3v3.5h-3zM276 133.2h2v3.5h-2zM282 133.2h1v3.5h-1zM296 133.2h2v3.5h-2zM302 133.2h1v3.5h-1zM307 133.2h1v3.5h-1zM325 133.2h1v3.5h-1zM331 133.2h1v3.5h-1zM346 133.2h1v3.5h-1zM91 138.5h1v3.5h-1zM95 138.5h1v3.5h-1zM101 138.5h1v3.5h-1zM104 138.5h1v3.5h-1zM114 138.5h2v3.5h-2zM122 138.5h1v3.5h-1zM126 138.5h2v3.5h-2zM141 138.5h1v3.5h-1zM157 138.5h2v3.5h-2zM163 138.5h1v3.5h-1zM172 138.5h1v3.5h-1zM181 138.5h1v3.5h-1zM206 138.5h1v3.5h-1zM217 138.5h1v3.5h-1zM220 138.5h1v3.5h-1zM246 138.5h2v3.5h-2zM251 138.5h1v3.5h-1zM256 138.5h1v3.5h-1zM261 138.5h1v3.5h-1zM268 138.5h1v3.5h-1zM270 138.5h3v3.5h-3zM276 138.5h1v3.5h-1zM282 138.5h1v3.5h-1zM302 138.5h1v3.5h-1zM331 138.5h1v3.5h-1zM91 143.8h1v3.5h-1zM93 143.8h1v3.5h-1zM95 143.8h1v3.5h-1zM101 143.8h1v3.5h-1zM104 143.8h1v3.5h-1zM114 143.8h2v3.5h-2zM122 143.8h1v3.5h-1zM126 143.8h3v3.5h-3zM136 143.8h1v3.5h-1zM141 143.8h1v3.5h-1zM150 143.8h1v3.5h-1zM154 143.8h1v3.5h-1zM158 143.8h1v3.5h-1zM163 143.8h1v3.5h-1zM179 143.8h1v3.5h-1zM181 143.8h1v3.5h-1zM206 143.8h1v3.5h-1zM217 143.8h1v3.5h-1zM240 143.8h2v3.5h-2zM253 143.8h1v3.5h-1zM256 143.8h1v3.5h-1zM271 143.8h2v3.5h-2zM276 143.8h2v3.5h-2zM282 143.8h1v3.5h-1zM297 143.8h1v3.5h-1zM302 143.8h2v3.5h-2zM307 143.8h1v3.5h-1zM325 143.8h1v3.5h-1zM331 143.8h1v3.5h-1zM346 143.8h1v3.5h-1zM350 143.8h1v3.5h-1zM93 149.2h1v3.5h-1zM99 149.2h1v3.5h-1zM101 149.2h1v3.5h-1zM104 149.2h1v3.5h-1zM109 149.2h1v3.5h-1zM114 149.2h1v3.5h-1zM127 149.2h1v3.5h-1zM136 149.2h1v3.5h-1zM141 149.2h2v3.5h-2zM145 149.2h1v3.5h-1zM158 149.2h2v3.5h-2zM163 149.2h1v3.5h-1zM172 149.2h1v3.5h-1zM179 149.2h1v3.5h-1zM181 149.2h1v3.5h-1zM187 149.2h1v3.5h-1zM203 149.2h1v3.5h-1zM207 149.2h1v3.5h-1zM217 149.2h1v3.5h-1zM241 149.2h1v3.5h-1zM247 149.2h1v3.5h-1zM256 149.2h1v3.5h-1zM268 149.2h1v3.5h-1zM271 149.2h2v3.5h-2zM276 149.2h2v3.5h-2zM282 149.2h1v3.5h-1zM297 149.2h1v3.5h-1zM302 149.2h2v3.5h-2zM305 149.2h1v3.5h-1zM331 149.2h1v3.5h-1zM346 149.2h1v3.5h-1zM350 149.2h2v3.5h-2zM81 154.5h1v3.5h-1zM89 154.5h1v3.5h-1zM91 154.5h1v3.5h-1zM93 154.5h1v3.5h-1zM99 154.5h2v3.5h-2zM104 154.5h1v3.5h-1zM109 154.5h1v3.5h-1zM122 154.5h1v3.5h-1zM128 154.5h1v3.5h-1zM136 154.5h1v3.5h-1zM141 154.5h1v3.5h-1zM157 154.5h1v3.5h-1zM172 154.5h1v3.5h-1zM179 154.5h1v3.5h-1zM187 154.5h1v3.5h-1zM201 154.5h1v3.5h-1zM228 154.5h1v3.5h-1zM232 154.5h1v3.5h-1zM247 154.5h1v3.5h-1zM256 154.5h1v3.5h-1zM271 154.5h2v3.5h-2zM282 154.5h1v3.5h-1zM302 154.5h1v3.5h-1zM311 154.5h1v3.5h-1zM331 154.5h1v3.5h-1zM350 154.5h2v3.5h-2zM81 159.8h1v3.5h-1zM83 159.8h1v3.5h-1zM89 159.8h1v3.5h-1zM107 159.8h2v3.5h-2zM117 159.8h2v3.5h-2zM121 159.8h1v3.5h-1zM128 159.8h1v3.5h-1zM134 159.8h1v3.5h-1zM136 159.8h2v3.5h-2zM140 159.8h1v3.5h-1zM142 159.8h1v3.5h-1zM154 159.8h3v3.5h-3zM163 159.8h1v3.5h-1zM170 159.8h1v3.5h-1zM174 159.8h1v3.5h-1zM176 159.8h1v3.5h-1zM181 159.8h1v3.5h-1zM184 159.8h1v3.5h-1zM190 159.8h1v3.5h-1zM196 159.8h2v3.5h-2zM204 159.8h1v3.5h-1zM207 159.8h1v3.5h-1zM209 159.8h1v3.5h-1zM211 159.8h2v3.5h-2zM214 159.8h1v3.5h-1zM227 159.8h3v3.5h-3zM233 159.8h2v3.5h-2zM241 159.8h1v3.5h-1zM247 159.8h1v3.5h-1zM252 159.8h1v3.5h-1zM260 159.8h1v3.5h-1zM273 159.8h2v3.5h-2zM285 159.8h2v3.5h-2zM290 159.8h1v3.5h-1zM303 159.8h1v3.5h-1zM306 159.8h1v3.5h-1zM323 159.8h2v3.5h-2zM327 159.8h1v3.5h-1zM333 159.8h2v3.5h-2zM337 159.8h2v3.5h-2zM342 159.8h1v3.5h-1zM348 159.8h1v3.5h-1zM350 159.8h1v3.5h-1zM128 165.1h1v3.5h-1zM350 165.1h1v3.5h-1z" fill="#ff6410" fill-opacity="0.22"/>
<path d="M143 122.5h1v3.5h-1zM145 122.5h1v3.5h-1zM150 122.5h1v3.5h-1zM161 122.5h1v3.5h-1zM164 122.5h1v3.5h-1zM167 122.5h1v3.5h-1zM188 122.5h1v3.5h-1zM191 122.5h1v3.5h-1zM237 122.5h1v3.5h-1zM246 122.5h1v3.5h-1zM249 122.5h1v3.5h-1zM251 122.5h1v3.5h-1zM254 122.5h1v3.5h-1zM259 122.5h1v3.5h-1zM262 122.5h1v3.5h-1zM265 122.5h1v3.5h-1zM276 122.5h1v3.5h-1zM289 122.5h1v3.5h-1zM299 122.5h2v3.5h-2zM321 122.5h1v3.5h-1zM325 122.5h1v3.5h-1zM346 122.5h1v3.5h-1zM95 127.8h1v3.5h-1zM100 127.8h1v3.5h-1zM126 127.8h1v3.5h-1zM161 127.8h2v3.5h-2zM164 127.8h1v3.5h-1zM167 127.8h1v3.5h-1zM173 127.8h1v3.5h-1zM188 127.8h1v3.5h-1zM222 127.8h1v3.5h-1zM236 127.8h1v3.5h-1zM238 127.8h1v3.5h-1zM242 127.8h1v3.5h-1zM249 127.8h1v3.5h-1zM251 127.8h1v3.5h-1zM253 127.8h1v3.5h-1zM264 127.8h1v3.5h-1zM269 127.8h1v3.5h-1zM275 127.8h1v3.5h-1zM279 127.8h1v3.5h-1zM289 127.8h1v3.5h-1zM295 127.8h1v3.5h-1zM299 127.8h1v3.5h-1zM100 133.2h2v3.5h-2zM115 133.2h1v3.5h-1zM150 133.2h1v3.5h-1zM158 133.2h1v3.5h-1zM161 133.2h1v3.5h-1zM188 133.2h1v3.5h-1zM199 133.2h1v3.5h-1zM222 133.2h1v3.5h-1zM236 133.2h3v3.5h-3zM253 133.2h2v3.5h-2zM261 133.2h3v3.5h-3zM269 133.2h1v3.5h-1zM275 133.2h1v3.5h-1zM284 133.2h1v3.5h-1zM288 133.2h1v3.5h-1zM291 133.2h1v3.5h-1zM299 133.2h1v3.5h-1zM321 133.2h1v3.5h-1zM82 138.5h1v3.5h-1zM100 138.5h1v3.5h-1zM143 138.5h1v3.5h-1zM145 138.5h1v3.5h-1zM150 138.5h1v3.5h-1zM161 138.5h1v3.5h-1zM164 138.5h1v3.5h-1zM167 138.5h1v3.5h-1zM188 138.5h1v3.5h-1zM191 138.5h1v3.5h-1zM199 138.5h1v3.5h-1zM201 138.5h1v3.5h-1zM208 138.5h2v3.5h-2zM222 138.5h1v3.5h-1zM240 138.5h1v3.5h-1zM242 138.5h1v3.5h-1zM249 138.5h1v3.5h-1zM253 138.5h2v3.5h-2zM257 138.5h1v3.5h-1zM259 138.5h1v3.5h-1zM262 138.5h2v3.5h-2zM269 138.5h1v3.5h-1zM275 138.5h1v3.5h-1zM278 138.5h1v3.5h-1zM284 138.5h1v3.5h-1zM289 138.5h1v3.5h-1zM291 138.5h1v3.5h-1zM295 138.5h3v3.5h-3zM299 138.5h1v3.5h-1zM307 138.5h1v3.5h-1zM325 138.5h1v3.5h-1zM346 138.5h1v3.5h-1zM82 143.8h1v3.5h-1zM100 143.8h1v3.5h-1zM143 143.8h1v3.5h-1zM145 143.8h1v3.5h-1zM157 143.8h1v3.5h-1zM161 143.8h1v3.5h-1zM164 143.8h1v3.5h-1zM188 143.8h1v3.5h-1zM199 143.8h1v3.5h-1zM201 143.8h1v3.5h-1zM203 143.8h1v3.5h-1zM208 143.8h2v3.5h-2zM220 143.8h1v3.5h-1zM222 143.8h1v3.5h-1zM237 143.8h1v3.5h-1zM242 143.8h1v3.5h-1zM246 143.8h1v3.5h-1zM251 143.8h1v3.5h-1zM259 143.8h1v3.5h-1zM261 143.8h4v3.5h-4zM268 143.8h3v3.5h-3zM278 143.8h1v3.5h-1zM284 143.8h1v3.5h-1zM288 143.8h2v3.5h-2zM295 143.8h2v3.5h-2zM321 143.8h1v3.5h-1zM82 149.2h1v3.5h-1zM91 149.2h1v3.5h-1zM95 149.2h1v3.5h-1zM100 149.2h1v3.5h-1zM115 149.2h1v3.5h-1zM122 149.2h1v3.5h-1zM143 149.2h1v3.5h-1zM150 149.2h1v3.5h-1zM157 149.2h1v3.5h-1zM161 149.2h1v3.5h-1zM164 149.2h1v3.5h-1zM166 149.2h2v3.5h-2zM188 149.2h1v3.5h-1zM191 149.2h1v3.5h-1zM199 149.2h1v3.5h-1zM201 149.2h1v3.5h-1zM206 149.2h1v3.5h-1zM208 149.2h2v3.5h-2zM220 149.2h1v3.5h-1zM240 149.2h1v3.5h-1zM242 149.2h1v3.5h-1zM246 149.2h1v3.5h-1zM249 149.2h1v3.5h-1zM251 149.2h1v3.5h-1zM253 149.2h1v3.5h-1zM257 149.2h1v3.5h-1zM261 149.2h1v3.5h-1zM263 149.2h1v3.5h-1zM270 149.2h1v3.5h-1zM278 149.2h1v3.5h-1zM296 149.2h1v3.5h-1zM307 149.2h1v3.5h-1zM325 149.2h1v3.5h-1zM82 154.5h1v3.5h-1zM94 154.5h2v3.5h-2zM101 154.5h1v3.5h-1zM114 154.5h2v3.5h-2zM126 154.5h2v3.5h-2zM142 154.5h2v3.5h-2zM150 154.5h1v3.5h-1zM158 154.5h2v3.5h-2zM161 154.5h1v3.5h-1zM163 154.5h2v3.5h-2zM166 154.5h1v3.5h-1zM181 154.5h1v3.5h-1zM188 154.5h1v3.5h-1zM191 154.5h1v3.5h-1zM199 154.5h1v3.5h-1zM203 154.5h1v3.5h-1zM206 154.5h1v3.5h-1zM208 154.5h2v3.5h-2zM217 154.5h1v3.5h-1zM220 154.5h1v3.5h-1zM240 154.5h2v3.5h-2zM246 154.5h1v3.5h-1zM254 154.5h1v3.5h-1zM257 154.5h1v3.5h-1zM261 154.5h2v3.5h-2zM268 154.5h1v3.5h-1zM270 154.5h1v3.5h-1zM276 154.5h3v3.5h-3zM289 154.5h1v3.5h-1zM296 154.5h2v3.5h-2zM305 154.5h1v3.5h-1zM307 154.5h1v3.5h-1zM325 154.5h1v3.5h-1zM346 154.5h1v3.5h-1zM80 159.8h1v3.5h-1zM82 159.8h1v3.5h-1zM91 159.8h1v3.5h-1zM93 159.8h4v3.5h-4zM98 159.8h3v3.5h-3zM110 159.8h2v3.5h-2zM114 159.8h2v3.5h-2zM119 159.8h2v3.5h-2zM122 159.8h2v3.5h-2zM127 159.8h1v3.5h-1zM135 159.8h1v3.5h-1zM141 159.8h1v3.5h-1zM143 159.8h3v3.5h-3zM149 159.8h1v3.5h-1zM151 159.8h1v3.5h-1zM158 159.8h4v3.5h-4zM164 159.8h1v3.5h-1zM166 159.8h2v3.5h-2zM169 159.8h1v3.5h-1zM172 159.8h1v3.5h-1zM179 159.8h2v3.5h-2zM182 159.8h1v3.5h-1zM186 159.8h4v3.5h-4zM193 159.8h2v3.5h-2zM200 159.8h1v3.5h-1zM203 159.8h1v3.5h-1zM206 159.8h1v3.5h-1zM208 159.8h1v3.5h-1zM210 159.8h1v3.5h-1zM213 159.8h1v3.5h-1zM215 159.8h4v3.5h-4zM220 159.8h1v3.5h-1zM225 159.8h2v3.5h-2zM231 159.8h2v3.5h-2zM235 159.8h1v3.5h-1zM253 159.8h1v3.5h-1zM256 159.8h1v3.5h-1zM261 159.8h1v3.5h-1zM263 159.8h1v3.5h-1zM266 159.8h1v3.5h-1zM268 159.8h1v3.5h-1zM270 159.8h3v3.5h-3zM276 159.8h3v3.5h-3zM280 159.8h1v3.5h-1zM282 159.8h1v3.5h-1zM292 159.8h2v3.5h-2zM296 159.8h2v3.5h-2zM302 159.8h1v3.5h-1zM307 159.8h8v3.5h-8zM316 159.8h1v3.5h-1zM320 159.8h1v3.5h-1zM322 159.8h1v3.5h-1zM330 159.8h2v3.5h-2zM335 159.8h1v3.5h-1zM340 159.8h1v3.5h-1zM344 159.8h4v3.5h-4zM351 159.8h1v3.5h-1zM335 165.1h1v3.5h-1z" fill="#ff6410" fill-opacity="0.31"/>
<path d="M130 122.5h1v3.5h-1zM162 122.5h1v3.5h-1zM173 122.5h1v3.5h-1zM183 122.5h1v3.5h-1zM222 122.5h1v3.5h-1zM236 122.5h1v3.5h-1zM238 122.5h1v3.5h-1zM264 122.5h1v3.5h-1zM269 122.5h1v3.5h-1zM275 122.5h1v3.5h-1zM279 122.5h1v3.5h-1zM284 122.5h1v3.5h-1zM288 122.5h1v3.5h-1zM291 122.5h1v3.5h-1zM295 122.5h1v3.5h-1zM130 127.8h1v3.5h-1zM237 127.8h1v3.5h-1zM245 127.8h1v3.5h-1zM254 127.8h1v3.5h-1zM259 127.8h1v3.5h-1zM265 127.8h1v3.5h-1zM284 127.8h1v3.5h-1zM288 127.8h1v3.5h-1zM291 127.8h1v3.5h-1zM300 127.8h1v3.5h-1zM321 127.8h1v3.5h-1zM130 133.2h1v3.5h-1zM162 133.2h1v3.5h-1zM173 133.2h1v3.5h-1zM248 133.2h2v3.5h-2zM259 133.2h1v3.5h-1zM264 133.2h2v3.5h-2zM279 133.2h1v3.5h-1zM289 133.2h1v3.5h-1zM295 133.2h1v3.5h-1zM300 133.2h1v3.5h-1zM103 138.5h1v3.5h-1zM130 138.5h1v3.5h-1zM162 138.5h1v3.5h-1zM173 138.5h1v3.5h-1zM236 138.5h3v3.5h-3zM264 138.5h2v3.5h-2zM279 138.5h1v3.5h-1zM288 138.5h1v3.5h-1zM300 138.5h1v3.5h-1zM321 138.5h1v3.5h-1zM167 143.8h1v3.5h-1zM191 143.8h1v3.5h-1zM236 143.8h1v3.5h-1zM238 143.8h1v3.5h-1zM245 143.8h1v3.5h-1zM249 143.8h1v3.5h-1zM254 143.8h1v3.5h-1zM257 143.8h1v3.5h-1zM265 143.8h1v3.5h-1zM275 143.8h1v3.5h-1zM279 143.8h1v3.5h-1zM299 143.8h2v3.5h-2zM126 149.2h1v3.5h-1zM237 149.2h2v3.5h-2zM254 149.2h1v3.5h-1zM259 149.2h1v3.5h-1zM262 149.2h1v3.5h-1zM264 149.2h1v3.5h-1zM269 149.2h1v3.5h-1zM275 149.2h1v3.5h-1zM279 149.2h1v3.5h-1zM284 149.2h1v3.5h-1zM288 149.2h2v3.5h-2zM291 149.2h1v3.5h-1zM299 149.2h2v3.5h-2zM321 149.2h1v3.5h-1zM145 154.5h1v3.5h-1zM167 154.5h1v3.5h-1zM222 154.5h1v3.5h-1zM237 154.5h1v3.5h-1zM242 154.5h1v3.5h-1zM249 154.5h1v3.5h-1zM251 154.5h1v3.5h-1zM253 154.5h1v3.5h-1zM259 154.5h1v3.5h-1zM263 154.5h1v3.5h-1zM265 154.5h1v3.5h-1zM269 154.5h1v3.5h-1zM275 154.5h1v3.5h-1zM295 154.5h1v3.5h-1zM299 154.5h2v3.5h-2zM101 159.8h1v3.5h-1zM104 159.8h1v3.5h-1zM126 159.8h1v3.5h-1zM150 159.8h1v3.5h-1zM157 159.8h1v3.5h-1zM191 159.8h1v3.5h-1zM199 159.8h1v3.5h-1zM201 159.8h1v3.5h-1zM237 159.8h1v3.5h-1zM240 159.8h1v3.5h-1zM242 159.8h1v3.5h-1zM246 159.8h1v3.5h-1zM249 159.8h1v3.5h-1zM251 159.8h1v3.5h-1zM254 159.8h1v3.5h-1zM262 159.8h1v3.5h-1zM279 159.8h1v3.5h-1zM289 159.8h1v3.5h-1zM295 159.8h1v3.5h-1zM299 159.8h1v3.5h-1zM305 159.8h1v3.5h-1zM325 159.8h1v3.5h-1zM86 165.1h1v3.5h-1zM89 165.1h1v3.5h-1zM97 165.1h3v3.5h-3zM109 165.1h1v3.5h-1zM111 165.1h1v3.5h-1zM113 165.1h3v3.5h-3zM123 165.1h3v3.5h-3zM127 165.1h1v3.5h-1zM143 165.1h1v3.5h-1zM145 165.1h1v3.5h-1zM148 165.1h1v3.5h-1zM152 165.1h1v3.5h-1zM159 165.1h1v3.5h-1zM166 165.1h1v3.5h-1zM174 165.1h2v3.5h-2zM177 165.1h1v3.5h-1zM180 165.1h1v3.5h-1zM186 165.1h1v3.5h-1zM190 165.1h1v3.5h-1zM193 165.1h2v3.5h-2zM199 165.1h1v3.5h-1zM204 165.1h1v3.5h-1zM207 165.1h1v3.5h-1zM211 165.1h2v3.5h-2zM217 165.1h1v3.5h-1zM220 165.1h1v3.5h-1zM228 165.1h3v3.5h-3zM232 165.1h2v3.5h-2zM235 165.1h1v3.5h-1zM241 165.1h1v3.5h-1zM266 165.1h1v3.5h-1zM274 165.1h1v3.5h-1zM277 165.1h1v3.5h-1zM280 165.1h1v3.5h-1zM282 165.1h1v3.5h-1zM285 165.1h2v3.5h-2zM293 165.1h1v3.5h-1zM302 165.1h1v3.5h-1zM306 165.1h2v3.5h-2zM310 165.1h1v3.5h-1zM314 165.1h1v3.5h-1zM320 165.1h1v3.5h-1zM323 165.1h1v3.5h-1zM325 165.1h2v3.5h-2zM328 165.1h1v3.5h-1zM331 165.1h1v3.5h-1zM338 165.1h1v3.5h-1zM344 165.1h1v3.5h-1zM349 165.1h1v3.5h-1z" fill="#ff6410" fill-opacity="0.41"/>
<path d="M84 122.5h1v3.5h-1zM103 122.5h1v3.5h-1zM219 122.5h1v3.5h-1zM301 122.5h1v3.5h-1zM84 127.8h1v3.5h-1zM103 127.8h1v3.5h-1zM183 127.8h1v3.5h-1zM301 127.8h1v3.5h-1zM84 133.2h1v3.5h-1zM103 133.2h1v3.5h-1zM183 133.2h1v3.5h-1zM245 133.2h1v3.5h-1zM84 138.5h1v3.5h-1zM183 138.5h1v3.5h-1zM219 138.5h1v3.5h-1zM245 138.5h1v3.5h-1zM248 138.5h1v3.5h-1zM301 138.5h1v3.5h-1zM88 143.8h1v3.5h-1zM130 143.8h1v3.5h-1zM162 143.8h1v3.5h-1zM173 143.8h1v3.5h-1zM291 143.8h1v3.5h-1zM301 143.8h1v3.5h-1zM79 149.2h1v3.5h-1zM88 149.2h1v3.5h-1zM130 149.2h1v3.5h-1zM162 149.2h1v3.5h-1zM219 149.2h1v3.5h-1zM222 149.2h1v3.5h-1zM236 149.2h1v3.5h-1zM248 149.2h1v3.5h-1zM265 149.2h1v3.5h-1zM295 149.2h1v3.5h-1zM79 154.5h1v3.5h-1zM103 154.5h1v3.5h-1zM130 154.5h1v3.5h-1zM162 154.5h1v3.5h-1zM173 154.5h1v3.5h-1zM236 154.5h1v3.5h-1zM238 154.5h1v3.5h-1zM264 154.5h1v3.5h-1zM279 154.5h1v3.5h-1zM284 154.5h1v3.5h-1zM288 154.5h1v3.5h-1zM321 154.5h1v3.5h-1zM162 159.8h1v3.5h-1zM222 159.8h1v3.5h-1zM236 159.8h1v3.5h-1zM238 159.8h1v3.5h-1zM257 159.8h1v3.5h-1zM259 159.8h1v3.5h-1zM264 159.8h2v3.5h-2zM269 159.8h1v3.5h-1zM275 159.8h1v3.5h-1zM284 159.8h1v3.5h-1zM288 159.8h1v3.5h-1zM300 159.8h1v3.5h-1zM321 159.8h1v3.5h-1zM80 165.1h4v3.5h-4zM85 165.1h1v3.5h-1zM87 165.1h1v3.5h-1zM91 165.1h1v3.5h-1zM93 165.1h4v3.5h-4zM100 165.1h3v3.5h-3zM104 165.1h3v3.5h-3zM108 165.1h1v3.5h-1zM112 165.1h1v3.5h-1zM116 165.1h7v3.5h-7zM126 165.1h1v3.5h-1zM129 165.1h1v3.5h-1zM132 165.1h6v3.5h-6zM139 165.1h4v3.5h-4zM144 165.1h1v3.5h-1zM146 165.1h2v3.5h-2zM150 165.1h2v3.5h-2zM153 165.1h6v3.5h-6zM160 165.1h2v3.5h-2zM163 165.1h3v3.5h-3zM167 165.1h6v3.5h-6zM176 165.1h1v3.5h-1zM178 165.1h2v3.5h-2zM181 165.1h1v3.5h-1zM184 165.1h2v3.5h-2zM187 165.1h3v3.5h-3zM192 165.1h1v3.5h-1zM195 165.1h2v3.5h-2zM198 165.1h1v3.5h-1zM200 165.1h4v3.5h-4zM205 165.1h2v3.5h-2zM208 165.1h3v3.5h-3zM213 165.1h3v3.5h-3zM221 165.1h1v3.5h-1zM223 165.1h5v3.5h-5zM231 165.1h1v3.5h-1zM238 165.1h3v3.5h-3zM242 165.1h3v3.5h-3zM246 165.1h2v3.5h-2zM251 165.1h7v3.5h-7zM262 165.1h2v3.5h-2zM268 165.1h6v3.5h-6zM275 165.1h2v3.5h-2zM278 165.1h2v3.5h-2zM281 165.1h1v3.5h-1zM283 165.1h1v3.5h-1zM289 165.1h2v3.5h-2zM292 165.1h1v3.5h-1zM294 165.1h1v3.5h-1zM296 165.1h4v3.5h-4zM303 165.1h3v3.5h-3zM308 165.1h2v3.5h-2zM311 165.1h1v3.5h-1zM315 165.1h5v3.5h-5zM324 165.1h1v3.5h-1zM327 165.1h1v3.5h-1zM329 165.1h1v3.5h-1zM332 165.1h3v3.5h-3zM336 165.1h2v3.5h-2zM339 165.1h3v3.5h-3zM343 165.1h1v3.5h-1zM345 165.1h2v3.5h-2zM351 165.1h1v3.5h-1z" fill="#ff6410" fill-opacity="0.52"/>
<path d="M245 122.5h1v3.5h-1zM219 127.8h1v3.5h-1zM219 133.2h1v3.5h-1zM301 133.2h1v3.5h-1zM84 143.8h1v3.5h-1zM103 143.8h1v3.5h-1zM183 143.8h1v3.5h-1zM219 143.8h1v3.5h-1zM248 143.8h1v3.5h-1zM84 149.2h1v3.5h-1zM103 149.2h1v3.5h-1zM173 149.2h1v3.5h-1zM183 149.2h1v3.5h-1zM301 149.2h1v3.5h-1zM84 154.5h1v3.5h-1zM88 154.5h1v3.5h-1zM183 154.5h1v3.5h-1zM245 154.5h1v3.5h-1zM248 154.5h1v3.5h-1zM291 154.5h1v3.5h-1zM301 154.5h1v3.5h-1zM79 159.8h1v3.5h-1zM88 159.8h1v3.5h-1zM103 159.8h1v3.5h-1zM130 159.8h1v3.5h-1zM173 159.8h1v3.5h-1zM248 159.8h1v3.5h-1zM291 159.8h1v3.5h-1zM130 165.1h1v3.5h-1zM191 165.1h1v3.5h-1zM237 165.1h1v3.5h-1zM259 165.1h1v3.5h-1zM261 165.1h1v3.5h-1zM287 165.1h1v3.5h-1zM291 165.1h1v3.5h-1zM295 165.1h1v3.5h-1zM90 170.5h1v3.9h-1zM92 170.5h2v3.9h-2zM97 170.5h1v3.9h-1zM100 170.5h1v3.9h-1zM108 170.5h1v3.9h-1zM113 170.5h1v3.9h-1zM115 170.5h1v3.9h-1zM125 170.5h1v3.9h-1zM131 170.5h1v3.9h-1zM141 170.5h1v3.9h-1zM159 170.5h1v3.9h-1zM165 170.5h1v3.9h-1zM176 170.5h2v3.9h-2zM184 170.5h1v3.9h-1zM197 170.5h1v3.9h-1zM202 170.5h1v3.9h-1zM206 170.5h1v3.9h-1zM233 170.5h2v3.9h-2zM239 170.5h1v3.9h-1zM247 170.5h1v3.9h-1zM260 170.5h1v3.9h-1zM274 170.5h1v3.9h-1zM276 170.5h1v3.9h-1zM292 170.5h1v3.9h-1zM294 170.5h1v3.9h-1zM296 170.5h1v3.9h-1zM306 170.5h1v3.9h-1zM309 170.5h1v3.9h-1zM323 170.5h3v3.9h-3zM334 170.5h1v3.9h-1zM342 170.5h1v3.9h-1zM350 170.5h1v3.9h-1z" fill="#ff6410" fill-opacity="0.64"/>
<path d="M245 149.2h1v3.5h-1zM219 154.5h1v3.5h-1zM84 159.8h1v3.5h-1zM183 159.8h1v3.5h-1zM245 159.8h1v3.5h-1zM301 159.8h1v3.5h-1zM79 165.1h1v3.5h-1zM88 165.1h1v3.5h-1zM162 165.1h1v3.5h-1zM173 165.1h1v3.5h-1zM222 165.1h1v3.5h-1zM236 165.1h1v3.5h-1zM248 165.1h2v3.5h-2zM264 165.1h2v3.5h-2zM284 165.1h1v3.5h-1zM288 165.1h1v3.5h-1zM300 165.1h1v3.5h-1zM321 165.1h1v3.5h-1zM80 170.5h1v3.9h-1zM83 170.5h1v3.9h-1zM86 170.5h2v3.9h-2zM95 170.5h1v3.9h-1zM98 170.5h2v3.9h-2zM101 170.5h1v3.9h-1zM104 170.5h3v3.9h-3zM110 170.5h1v3.9h-1zM112 170.5h1v3.9h-1zM117 170.5h2v3.9h-2zM122 170.5h3v3.9h-3zM129 170.5h1v3.9h-1zM132 170.5h5v3.9h-5zM138 170.5h1v3.9h-1zM142 170.5h1v3.9h-1zM145 170.5h1v3.9h-1zM148 170.5h1v3.9h-1zM151 170.5h1v3.9h-1zM153 170.5h1v3.9h-1zM157 170.5h2v3.9h-2zM160 170.5h2v3.9h-2zM163 170.5h2v3.9h-2zM166 170.5h2v3.9h-2zM171 170.5h2v3.9h-2zM174 170.5h1v3.9h-1zM180 170.5h1v3.9h-1zM186 170.5h2v3.9h-2zM189 170.5h1v3.9h-1zM191 170.5h1v3.9h-1zM193 170.5h4v3.9h-4zM199 170.5h1v3.9h-1zM203 170.5h1v3.9h-1zM205 170.5h1v3.9h-1zM207 170.5h3v3.9h-3zM211 170.5h1v3.9h-1zM213 170.5h3v3.9h-3zM217 170.5h2v3.9h-2zM224 170.5h1v3.9h-1zM226 170.5h1v3.9h-1zM229 170.5h2v3.9h-2zM240 170.5h1v3.9h-1zM242 170.5h1v3.9h-1zM244 170.5h1v3.9h-1zM249 170.5h1v3.9h-1zM254 170.5h5v3.9h-5zM261 170.5h1v3.9h-1zM263 170.5h1v3.9h-1zM266 170.5h1v3.9h-1zM270 170.5h1v3.9h-1zM272 170.5h2v3.9h-2zM275 170.5h1v3.9h-1zM281 170.5h3v3.9h-3zM287 170.5h4v3.9h-4zM302 170.5h1v3.9h-1zM305 170.5h1v3.9h-1zM307 170.5h2v3.9h-2zM311 170.5h2v3.9h-2zM315 170.5h3v3.9h-3zM319 170.5h3v3.9h-3zM327 170.5h1v3.9h-1zM329 170.5h2v3.9h-2zM335 170.5h1v3.9h-1zM343 170.5h2v3.9h-2zM346 170.5h3v3.9h-3zM351 170.5h1v3.9h-1z" fill="#ff6410" fill-opacity="0.77"/>
<path d="M219 159.8h1v3.5h-1zM84 165.1h1v3.5h-1zM103 165.1h1v3.5h-1zM245 165.1h1v3.5h-1zM81 170.5h2v3.9h-2zM85 170.5h1v3.9h-1zM88 170.5h2v3.9h-2zM91 170.5h1v3.9h-1zM94 170.5h1v3.9h-1zM96 170.5h1v3.9h-1zM102 170.5h1v3.9h-1zM107 170.5h1v3.9h-1zM109 170.5h1v3.9h-1zM111 170.5h1v3.9h-1zM114 170.5h1v3.9h-1zM116 170.5h1v3.9h-1zM119 170.5h3v3.9h-3zM126 170.5h3v3.9h-3zM130 170.5h1v3.9h-1zM137 170.5h1v3.9h-1zM139 170.5h2v3.9h-2zM143 170.5h2v3.9h-2zM146 170.5h2v3.9h-2zM149 170.5h2v3.9h-2zM152 170.5h1v3.9h-1zM154 170.5h3v3.9h-3zM162 170.5h1v3.9h-1zM168 170.5h3v3.9h-3zM173 170.5h1v3.9h-1zM175 170.5h1v3.9h-1zM178 170.5h2v3.9h-2zM181 170.5h2v3.9h-2zM185 170.5h1v3.9h-1zM188 170.5h1v3.9h-1zM190 170.5h1v3.9h-1zM192 170.5h1v3.9h-1zM198 170.5h1v3.9h-1zM200 170.5h2v3.9h-2zM204 170.5h1v3.9h-1zM210 170.5h1v3.9h-1zM212 170.5h1v3.9h-1zM216 170.5h1v3.9h-1zM220 170.5h4v3.9h-4zM225 170.5h1v3.9h-1zM227 170.5h2v3.9h-2zM231 170.5h2v3.9h-2zM235 170.5h4v3.9h-4zM241 170.5h1v3.9h-1zM243 170.5h1v3.9h-1zM246 170.5h1v3.9h-1zM250 170.5h4v3.9h-4zM262 170.5h1v3.9h-1zM264 170.5h2v3.9h-2zM267 170.5h3v3.9h-3zM271 170.5h1v3.9h-1zM277 170.5h4v3.9h-4zM284 170.5h3v3.9h-3zM293 170.5h1v3.9h-1zM295 170.5h1v3.9h-1zM297 170.5h4v3.9h-4zM303 170.5h2v3.9h-2zM310 170.5h1v3.9h-1zM313 170.5h2v3.9h-2zM318 170.5h1v3.9h-1zM322 170.5h1v3.9h-1zM326 170.5h1v3.9h-1zM328 170.5h1v3.9h-1zM331 170.5h3v3.9h-3zM336 170.5h6v3.9h-6zM345 170.5h1v3.9h-1zM349 170.5h1v3.9h-1z" fill="#ff6410" fill-opacity="0.9"/>
<path d="M183 165.1h1v3.5h-1zM219 165.1h1v3.5h-1zM301 165.1h1v3.5h-1zM79 170.5h1v3.9h-1zM84 170.5h1v3.9h-1zM103 170.5h1v3.9h-1zM183 170.5h1v3.9h-1zM219 170.5h1v3.9h-1zM245 170.5h1v3.9h-1zM248 170.5h1v3.9h-1zM259 170.5h1v3.9h-1zM291 170.5h1v3.9h-1zM301 170.5h1v3.9h-1z" fill="#ff6410" fill-opacity="1.0"/>
</g>
<line x1="78.6" y1="14.5" x2="78.6" y2="180" stroke="#d0d0d0" stroke-width="0.8"/>
<rect x="79" y="15.5" width="2.2" height="2.2" fill="none" stroke="#999" stroke-width="0.6"/>
<rect x="79" y="69.2" width="2.2" height="2.2" fill="none" stroke="#999" stroke-width="0.6"/>
<rect x="79" y="122.5" width="2.2" height="2.2" fill="none" stroke="#999" stroke-width="0.6"/>
<line x1="79" y1="179.5" x2="351.5" y2="179.5" stroke="#777" stroke-width="0.9"/>
<rect x="106.8" y="177.6" width="10" height="1.4" fill="#b0b0b0"/>
<rect x="134.4" y="177.6" width="10" height="1.4" fill="#b0b0b0"/>
<rect x="162.0" y="177.6" width="10" height="1.4" fill="#b0b0b0"/>
<rect x="189.6" y="177.6" width="10" height="1.4" fill="#b0b0b0"/>
<rect x="217.2" y="177.6" width="10" height="1.4" fill="#b0b0b0"/>
<rect x="244.8" y="177.6" width="10" height="1.4" fill="#b0b0b0"/>
<rect x="272.4" y="177.6" width="10" height="1.4" fill="#b0b0b0"/>
<rect x="300.0" y="177.6" width="10" height="1.4" fill="#b0b0b0"/>
<rect x="327.6" y="177.6" width="10" height="1.4" fill="#b0b0b0"/>
<rect x="345" y="180.5" width="6" height="1" fill="#bbb"/>
<text x="215.4" y="196.2" font-size="11.9" text-anchor="middle" font-weight="normal" fill="#222" stroke="#222" stroke-width="0.1">21–24-nucleotide sRNA reads on Chr. 1</text>
<text x="73.8" y="47.7" font-size="13.3" text-anchor="end" font-weight="normal" fill="#222" stroke="#222" stroke-width="0.1">wt<tspan font-size="9.3" baseline-shift="4.8">s</tspan>/wt<tspan font-size="9.3" baseline-shift="4.8">r</tspan></text>
<text x="73.8" y="102.8" font-size="12.5" text-anchor="end" font-weight="normal" fill="#222" stroke="#222" stroke-width="0.1"><tspan font-style="italic">nrpd1</tspan><tspan font-size="8.8" baseline-shift="4.5">s</tspan>/<tspan font-style="italic">nrpd1</tspan><tspan font-size="8.8" baseline-shift="4.5">r</tspan></text>
<text x="73.8" y="157.1" font-size="12.5" text-anchor="end" font-weight="normal" fill="#222" stroke="#222" stroke-width="0.1"><tspan font-style="italic">nrpd1</tspan><tspan font-size="8.8" baseline-shift="4.5">s</tspan>/wt<tspan font-size="8.8" baseline-shift="4.5">r</tspan></text>
<circle cx="500.5" cy="128" r="75" fill="#a9d18e"/>
<ellipse cx="540.8" cy="122.7" rx="46.2" ry="51.3" fill="#f4b183" fill-opacity="0.6"/>
<text x="456.0" y="25.3" font-size="11.7" text-anchor="middle" font-weight="normal" fill="#222" stroke="#222" stroke-width="0.1">NRPD1-dependent RNA</text>
<text x="456.0" y="39.3" font-size="11.7" text-anchor="middle" font-weight="normal" fill="#222" stroke="#222" stroke-width="0.1">clusters in wt<tspan font-size="8.4" baseline-shift="4.3">s</tspan>/wt<tspan font-size="8.4" baseline-shift="4.3">r</tspan></text>
<text x="456.0" y="53.3" font-size="11.7" text-anchor="middle" font-weight="normal" fill="#222" stroke="#222" stroke-width="0.1">(3,100)</text>
<text x="578.8" y="25.3" font-size="11.7" text-anchor="middle" font-weight="normal" fill="#222" stroke="#222" stroke-width="0.1">PMsiRNA clusters</text>
<text x="578.8" y="39.3" font-size="11.7" text-anchor="middle" font-weight="normal" fill="#222" stroke="#222" stroke-width="0.1">in <tspan font-style="italic">nrpd1</tspan><tspan font-size="8.4" baseline-shift="4.3">s</tspan>/wt<tspan font-size="8.4" baseline-shift="4.3">r</tspan></text>
<text x="578.8" y="53.3" font-size="11.7" text-anchor="middle" font-weight="normal" fill="#222" stroke="#222" stroke-width="0.1">(178)</text>
<text x="465.2" y="130.3" font-size="12" text-anchor="middle" font-weight="normal" fill="#222" stroke="#222" stroke-width="0.1">2,931</text>
<text x="533.7" y="130.3" font-size="12" text-anchor="middle" font-weight="normal" fill="#222" stroke="#222" stroke-width="0.1">169</text>
<text x="581.0" y="130.3" font-size="12" text-anchor="middle" font-weight="normal" fill="#222" stroke="#222" stroke-width="0.1">9</text>
<line x1="79.9" y1="233.8" x2="79.9" y2="404.1" stroke="#555" stroke-width="1"/>
<line x1="79.9" y1="404.1" x2="278.3" y2="404.1" stroke="#555" stroke-width="1"/>
<line x1="75.30000000000001" y1="233.80" x2="79.9" y2="233.80" stroke="#555" stroke-width="1"/>
<text x="70.3" y="237.8" font-size="11.2" text-anchor="end" font-weight="normal" fill="#333" stroke="#333" stroke-width="0.1">20,000</text>
<line x1="75.30000000000001" y1="267.86" x2="79.9" y2="267.86" stroke="#555" stroke-width="1"/>
<text x="70.3" y="271.9" font-size="11.2" text-anchor="end" font-weight="normal" fill="#333" stroke="#333" stroke-width="0.1">16,000</text>
<line x1="75.30000000000001" y1="301.92" x2="79.9" y2="301.92" stroke="#555" stroke-width="1"/>
<text x="70.3" y="305.9" font-size="11.2" text-anchor="end" font-weight="normal" fill="#333" stroke="#333" stroke-width="0.1">12,000</text>
<line x1="75.30000000000001" y1="335.98" x2="79.9" y2="335.98" stroke="#555" stroke-width="1"/>
<text x="70.3" y="340.0" font-size="11.2" text-anchor="end" font-weight="normal" fill="#333" stroke="#333" stroke-width="0.1">8,000</text>
<line x1="75.30000000000001" y1="370.04" x2="79.9" y2="370.04" stroke="#555" stroke-width="1"/>
<text x="70.3" y="374.0" font-size="11.2" text-anchor="end" font-weight="normal" fill="#333" stroke="#333" stroke-width="0.1">4,000</text>
<line x1="75.30000000000001" y1="404.10" x2="79.9" y2="404.10" stroke="#555" stroke-width="1"/>
<text x="70.3" y="408.1" font-size="11.2" text-anchor="end" font-weight="normal" fill="#333" stroke="#333" stroke-width="0.1">0</text>
<line x1="79.90" y1="404.1" x2="79.90" y2="408.90000000000003" stroke="#555" stroke-width="1"/>
<line x1="129.50" y1="404.1" x2="129.50" y2="408.90000000000003" stroke="#555" stroke-width="1"/>
<line x1="179.10" y1="404.1" x2="179.10" y2="408.90000000000003" stroke="#555" stroke-width="1"/>
<line x1="228.70" y1="404.1" x2="228.70" y2="408.90000000000003" stroke="#555" stroke-width="1"/>
<line x1="278.30" y1="404.1" x2="278.30" y2="408.90000000000003" stroke="#555" stroke-width="1"/>
<rect x="89.40" y="314.69" width="8.5" height="89.41" fill="#a9d18e"/>
<rect x="100.60" y="375.15" width="8.5" height="28.95" fill="#a5a5a5"/>
<rect x="111.50" y="341.51" width="8.5" height="62.59" fill="#f4b183"/>
<rect x="139.00" y="261.90" width="8.5" height="142.20" fill="#a9d18e"/>
<rect x="150.20" y="369.19" width="8.5" height="34.91" fill="#a5a5a5"/>
<rect x="161.10" y="335.13" width="8.5" height="68.97" fill="#f4b183"/>
<rect x="188.60" y="250.83" width="8.5" height="153.27" fill="#a9d18e"/>
<rect x="199.80" y="308.73" width="8.5" height="95.37" fill="#a5a5a5"/>
<rect x="210.70" y="330.45" width="8.5" height="73.65" fill="#f4b183"/>
<rect x="238.20" y="307.03" width="8.5" height="97.07" fill="#a9d18e"/>
<rect x="249.40" y="371.23" width="8.5" height="32.87" fill="#a5a5a5"/>
<rect x="260.30" y="292.98" width="8.5" height="111.12" fill="#f4b183"/>
<text x="104.7" y="422.0" font-size="11.5" text-anchor="middle" font-weight="normal" fill="#222" stroke="#222" stroke-width="0.1">21</text>
<text x="154.3" y="422.0" font-size="11.5" text-anchor="middle" font-weight="normal" fill="#222" stroke="#222" stroke-width="0.1">22</text>
<text x="203.9" y="422.0" font-size="11.5" text-anchor="middle" font-weight="normal" fill="#222" stroke="#222" stroke-width="0.1">23</text>
<text x="253.5" y="422.0" font-size="11.5" text-anchor="middle" font-weight="normal" fill="#222" stroke="#222" stroke-width="0.1">24</text>
<text x="180.0" y="439.0" font-size="12.2" text-anchor="middle" font-weight="normal" fill="#222" stroke="#222" stroke-width="0.1">sRNA length (nucleotides)</text>
<text transform="translate(14.5,311) rotate(-90)" font-size="11.8" text-anchor="middle" fill="#222">sRNA abundance</text>
<text transform="translate(28.5,312.8) rotate(-90)" font-size="11.8" text-anchor="middle" fill="#222">over TEs (RPM)</text>
<rect x="209" y="234.90" width="10.6" height="10.2" fill="#a9d18e"/>
<text x="226.3" y="244.2" font-size="12.2" text-anchor="start" font-weight="normal" fill="#222" stroke="#222" stroke-width="0.1">pollen_wt<tspan font-size="8.4" baseline-shift="4.3">s</tspan>/wt<tspan font-size="8.4" baseline-shift="4.3">r</tspan></text>
<rect x="209" y="253.75" width="10.6" height="10.2" fill="#a5a5a5"/>
<text x="226.3" y="263.1" font-size="12.2" text-anchor="start" font-weight="normal" fill="#222" stroke="#222" stroke-width="0.1">pollen_<tspan font-style="italic">nrpd1</tspan><tspan font-size="8.4" baseline-shift="4.3">s</tspan>/<tspan font-style="italic">nrpd1</tspan><tspan font-size="8.4" baseline-shift="4.3">r</tspan></text>
<rect x="209" y="272.60" width="10.6" height="10.2" fill="#f4b183"/>
<text x="226.3" y="281.9" font-size="12.2" text-anchor="start" font-weight="normal" fill="#222" stroke="#222" stroke-width="0.1">pollen_<tspan font-style="italic">nrpd1</tspan><tspan font-size="8.4" baseline-shift="4.3">s</tspan>/wt<tspan font-size="8.4" baseline-shift="4.3">r</tspan></text>
<line x1="79.8" y1="480.8" x2="79.8" y2="656.2" stroke="#555" stroke-width="1"/>
<line x1="79.8" y1="656.2" x2="287.8" y2="656.2" stroke="#555" stroke-width="1"/>
<line x1="75.2" y1="480.80" x2="79.8" y2="480.80" stroke="#555" stroke-width="1"/>
<text x="70.2" y="484.8" font-size="11.2" text-anchor="end" font-weight="normal" fill="#333" stroke="#333" stroke-width="0.1">12,000</text>
<line x1="75.2" y1="510.03" x2="79.8" y2="510.03" stroke="#555" stroke-width="1"/>
<text x="70.2" y="514.0" font-size="11.2" text-anchor="end" font-weight="normal" fill="#333" stroke="#333" stroke-width="0.1">10,000</text>
<line x1="75.2" y1="539.27" x2="79.8" y2="539.27" stroke="#555" stroke-width="1"/>
<text x="70.2" y="543.3" font-size="11.2" text-anchor="end" font-weight="normal" fill="#333" stroke="#333" stroke-width="0.1">8,000</text>
<line x1="75.2" y1="568.50" x2="79.8" y2="568.50" stroke="#555" stroke-width="1"/>
<text x="70.2" y="572.5" font-size="11.2" text-anchor="end" font-weight="normal" fill="#333" stroke="#333" stroke-width="0.1">6,000</text>
<line x1="75.2" y1="597.73" x2="79.8" y2="597.73" stroke="#555" stroke-width="1"/>
<text x="70.2" y="601.7" font-size="11.2" text-anchor="end" font-weight="normal" fill="#333" stroke="#333" stroke-width="0.1">4,000</text>
<line x1="75.2" y1="626.97" x2="79.8" y2="626.97" stroke="#555" stroke-width="1"/>
<text x="70.2" y="631.0" font-size="11.2" text-anchor="end" font-weight="normal" fill="#333" stroke="#333" stroke-width="0.1">2,000</text>
<line x1="75.2" y1="656.20" x2="79.8" y2="656.20" stroke="#555" stroke-width="1"/>
<text x="70.2" y="660.2" font-size="11.2" text-anchor="end" font-weight="normal" fill="#333" stroke="#333" stroke-width="0.1">0</text>
<line x1="79.80" y1="656.2" x2="79.80" y2="661.0" stroke="#555" stroke-width="1"/>
<line x1="131.75" y1="656.2" x2="131.75" y2="661.0" stroke="#555" stroke-width="1"/>
<line x1="183.70" y1="656.2" x2="183.70" y2="661.0" stroke="#555" stroke-width="1"/>
<line x1="235.65" y1="656.2" x2="235.65" y2="661.0" stroke="#555" stroke-width="1"/>
<line x1="287.60" y1="656.2" x2="287.60" y2="661.0" stroke="#555" stroke-width="1"/>
<rect x="89.80" y="558.27" width="9.2" height="97.93" fill="#a9d18e"/>
<rect x="101.35" y="605.77" width="9.2" height="50.43" fill="#bfbfbf"/>
<rect x="112.90" y="542.19" width="9.2" height="114.01" fill="#f4b183"/>
<rect x="141.75" y="540.00" width="9.2" height="116.20" fill="#a9d18e"/>
<rect x="153.30" y="607.53" width="9.2" height="48.67" fill="#bfbfbf"/>
<rect x="164.85" y="549.50" width="9.2" height="106.70" fill="#f4b183"/>
<rect x="193.70" y="534.15" width="9.2" height="122.05" fill="#a9d18e"/>
<rect x="205.25" y="606.50" width="9.2" height="49.70" fill="#bfbfbf"/>
<rect x="216.80" y="547.31" width="9.2" height="108.89" fill="#f4b183"/>
<rect x="245.65" y="526.11" width="9.2" height="130.09" fill="#a9d18e"/>
<rect x="257.20" y="588.23" width="9.2" height="67.97" fill="#bfbfbf"/>
<rect x="268.75" y="510.47" width="9.2" height="145.73" fill="#f4b183"/>
<text x="105.7" y="674.0" font-size="11.5" text-anchor="middle" font-weight="normal" fill="#222" stroke="#222" stroke-width="0.1">21</text>
<text x="157.7" y="674.0" font-size="11.5" text-anchor="middle" font-weight="normal" fill="#222" stroke="#222" stroke-width="0.1">22</text>
<text x="209.6" y="674.0" font-size="11.5" text-anchor="middle" font-weight="normal" fill="#222" stroke="#222" stroke-width="0.1">23</text>
<text x="261.6" y="674.0" font-size="11.5" text-anchor="middle" font-weight="normal" fill="#222" stroke="#222" stroke-width="0.1">24</text>
<text x="183.5" y="690.2" font-size="12.2" text-anchor="middle" font-weight="normal" fill="#222" stroke="#222" stroke-width="0.1">sRNA length (nucleotides)</text>
<text transform="translate(15,566.4) rotate(-90)" font-size="11.8" text-anchor="middle" fill="#222">sRNA abundance</text>
<text transform="translate(29.3,566.5) rotate(-90)" font-size="11.8" text-anchor="middle" fill="#222">over genes (RPM)</text>
<rect x="202" y="460.50" width="10.5" height="9.8" fill="#a9d18e"/>
<text x="218.7" y="469.6" font-size="12.2" text-anchor="start" font-weight="normal" fill="#222" stroke="#222" stroke-width="0.1">pollen_wt<tspan font-size="8.4" baseline-shift="4.3">s</tspan>/wt<tspan font-size="8.4" baseline-shift="4.3">r</tspan></text>
<rect x="202" y="479.25" width="10.5" height="9.8" fill="#a5a5a5"/>
<text x="218.7" y="488.4" font-size="12.2" text-anchor="start" font-weight="normal" fill="#222" stroke="#222" stroke-width="0.1">pollen_<tspan font-style="italic">nrpd1</tspan><tspan font-size="8.4" baseline-shift="4.3">s</tspan>/<tspan font-style="italic">nrpd1</tspan><tspan font-size="8.4" baseline-shift="4.3">r</tspan></text>
<rect x="202" y="498.00" width="10.5" height="9.8" fill="#f4b183"/>
<text x="218.7" y="507.1" font-size="12.2" text-anchor="start" font-weight="normal" fill="#222" stroke="#222" stroke-width="0.1">pollen_<tspan font-style="italic">nrpd1</tspan><tspan font-size="8.4" baseline-shift="4.3">s</tspan>/wt<tspan font-size="8.4" baseline-shift="4.3">r</tspan></text>
<path d="M495.3,297.6 L495.30,222.40 A75.2,75.2 0 1 1 484.47,372.02 Z" fill="#f4b183" stroke="#fff" stroke-width="2.5" stroke-linejoin="round"/>
<path d="M495.3,297.6 L484.47,372.02 A75.2,75.2 0 0 1 495.30,222.40 Z" fill="#a9d18e" stroke="#fff" stroke-width="2.5" stroke-linejoin="round"/>
<text x="459.5" y="297.3" font-size="11.8" text-anchor="middle" font-weight="normal" fill="#222" stroke="#222" stroke-width="0.1">48%</text>
<text x="528.2" y="298.6" font-size="11.8" text-anchor="middle" font-weight="normal" fill="#222" stroke="#222" stroke-width="0.1">52%</text>
<rect x="406" y="385.80" width="11" height="11" fill="#f4b183"/>
<text x="423.5" y="395.8" font-size="11.8" text-anchor="start" font-weight="normal" fill="#222" stroke="#222" stroke-width="0.1">169 PMsRNA clusters</text>
<rect x="406" y="405.50" width="11" height="11" fill="#a9d18e"/>
<text x="423.5" y="415.5" font-size="11.8" text-anchor="start" font-weight="normal" fill="#222" stroke="#222" stroke-width="0.1">2,931 no-PMsRNA clusters</text>
<path d="M493.4,540.6 L493.40,446.60 A94,94 0 0 1 581.44,507.65 Z" fill="#f4b183" stroke="#fff" stroke-width="2.6" stroke-linejoin="round"/>
<path d="M493.4,540.6 L581.44,507.65 A94,94 0 0 1 496.35,634.55 Z" fill="#ffd966" stroke="#fff" stroke-width="2.6" stroke-linejoin="round"/>
<path d="M493.4,540.6 L496.35,634.55 A94,94 0 0 1 402.65,516.08 Z" fill="#8faadc" stroke="#fff" stroke-width="2.6" stroke-linejoin="round"/>
<path d="M493.4,540.6 L402.65,516.08 A94,94 0 0 1 493.40,446.60 Z" fill="#a9d18e" stroke="#fff" stroke-width="2.6" stroke-linejoin="round"/>
<text x="523.4" y="503.4" font-size="11.8" text-anchor="middle" font-weight="normal" fill="#222" stroke="#222" stroke-width="0.1">19.3%</text>
<text x="526.0" y="579.6" font-size="11.8" text-anchor="middle" font-weight="normal" fill="#222" stroke="#222" stroke-width="0.1">30.2%</text>
<text x="449.4" y="577.9" font-size="11.8" text-anchor="middle" font-weight="normal" fill="#222" stroke="#222" stroke-width="0.1">29.7%</text>
<text x="455.0" y="501.2" font-size="11.8" text-anchor="middle" font-weight="normal" fill="#222" stroke="#222" stroke-width="0.1">20.9%</text>
<rect x="593" y="502.30" width="11" height="11" fill="#f4b183"/>
<text x="609.3" y="512.3" font-size="12.2" text-anchor="start" font-weight="normal" fill="#222" stroke="#222" stroke-width="0.1">21-nucleotide</text>
<rect x="593" y="524.65" width="11" height="11" fill="#ffd966"/>
<text x="609.3" y="534.6" font-size="12.2" text-anchor="start" font-weight="normal" fill="#222" stroke="#222" stroke-width="0.1">22-nucleotide</text>
<rect x="593" y="547.00" width="11" height="11" fill="#8faadc"/>
<text x="609.3" y="557.0" font-size="12.2" text-anchor="start" font-weight="normal" fill="#222" stroke="#222" stroke-width="0.1">23-nucleotide</text>
<rect x="593" y="569.35" width="11" height="11" fill="#a9d18e"/>
<text x="609.3" y="579.4" font-size="12.2" text-anchor="start" font-weight="normal" fill="#222" stroke="#222" stroke-width="0.1">24-nucleotide</text>
<text x="127.5" y="720.6" font-size="12" text-anchor="middle" font-weight="normal" fill="#222" stroke="#222" stroke-width="0.1">Gene body</text>
<text x="260.5" y="720.6" font-size="12" text-anchor="middle" font-weight="normal" fill="#222" stroke="#222" stroke-width="0.1">Gene promoter</text>
<text x="406.0" y="720.6" font-size="12" text-anchor="middle" font-weight="normal" fill="#222" stroke="#222" stroke-width="0.1">Intergenic region</text>
<text x="515.2" y="720.6" font-size="12" text-anchor="middle" font-weight="normal" fill="#222" stroke="#222" stroke-width="0.1">TE body</text>
<text x="72.8" y="745.0" font-size="13.2" text-anchor="end" font-weight="normal" fill="#222" stroke="#222" stroke-width="0.1">wt<tspan font-size="9.2" baseline-shift="4.8">s</tspan>/wt<tspan font-size="9.2" baseline-shift="4.8">r</tspan></text>
<text x="72.6" y="776.0" font-size="12" text-anchor="end" font-weight="normal" fill="#222" stroke="#222" stroke-width="0.1"><tspan font-style="italic">nrpd1</tspan><tspan font-size="8.4" baseline-shift="4.3">s</tspan>/<tspan font-style="italic">nrpd1</tspan><tspan font-size="8.4" baseline-shift="4.3">r</tspan></text>
<text x="72.6" y="806.0" font-size="12" text-anchor="end" font-weight="normal" fill="#222" stroke="#222" stroke-width="0.1"><tspan font-style="italic">nrpd1</tspan><tspan font-size="8.4" baseline-shift="4.3">s</tspan>/wt<tspan font-size="8.4" baseline-shift="4.3">r</tspan></text>
<text x="71.6" y="836.5" font-size="11.6" text-anchor="end" font-weight="normal" fill="#ff00ff" stroke="#ff00ff" stroke-width="0.1">Genes</text>
<text x="71.6" y="853.1" font-size="11.8" text-anchor="end" font-weight="normal" fill="#30a860" stroke="#30a860" stroke-width="0.1">TEs</text>
<text x="71.6" y="873.0" font-size="11.2" text-anchor="end" font-weight="normal" fill="#ff1a1a" stroke="#ff1a1a" stroke-width="0.1">PMsiRNA</text>
<text x="71.6" y="890.3" font-size="12.4" text-anchor="end" font-weight="normal" fill="#ff1a1a" stroke="#ff1a1a" stroke-width="0.1">cluster</text>
<path d="M111.80 756.4h0.88v-1.7h-0.88zM112.67 756.4h0.88v-2.0h-0.88zM113.55 756.4h0.88v-2.4h-0.88zM114.42 756.4h0.88v-2.7h-0.88zM124.30 756.4h0.93v-8.8h-0.93zM125.23 756.4h0.93v-8.8h-0.93zM126.17 756.4h0.93v-8.8h-0.93zM127.10 756.4h0.75v-2.0h-0.75zM127.85 756.4h0.75v-2.0h-0.75zM142.90 756.4h0.87v-5.0h-0.87zM143.77 756.4h0.87v-4.2h-0.87zM144.63 756.4h0.87v-3.4h-0.87zM148.00 756.4h0.96v-1.0h-0.96zM148.96 756.4h0.96v-1.0h-0.96zM149.93 756.4h0.96v-1.0h-0.96zM150.89 756.4h0.96v-1.0h-0.96zM151.85 756.4h0.96v-1.0h-0.96zM152.81 756.4h0.96v-1.0h-0.96zM153.77 756.4h0.96v-1.0h-0.96zM154.74 756.4h0.96v-1.0h-0.96zM158.80 756.4h1.00v-2.0h-1.00zM159.80 756.4h1.00v-2.0h-1.00zM160.80 756.4h1.00v-2.0h-1.00zM177.80 756.4h1.20v-1.0h-1.20zM179.00 756.4h1.20v-1.0h-1.20zM190.70 756.4h1.20v-1.0h-1.20zM194.80 756.4h1.00v-1.0h-1.00zM195.80 756.4h1.00v-1.0h-1.00zM233.30 756.4h0.97v-1.0h-0.97zM234.27 756.4h0.97v-1.0h-0.97zM235.23 756.4h0.97v-1.0h-0.97zM236.20 756.4h0.97v-1.0h-0.97zM237.17 756.4h0.97v-1.0h-0.97zM238.13 756.4h0.97v-1.0h-0.97zM239.10 756.4h0.97v-1.0h-0.97zM240.07 756.4h0.97v-1.0h-0.97zM241.03 756.4h0.97v-1.0h-0.97zM268.00 756.4h1.00v-1.0h-1.00zM322.00 756.4h1.00v-1.0h-1.00zM405.00 756.4h1.00v-6.5h-1.00zM406.00 756.4h1.00v-5.5h-1.00zM412.00 756.4h1.10v-8.0h-1.10zM413.10 756.4h1.10v-8.0h-1.10zM422.50 756.4h1.00v-14.5h-1.00zM423.50 756.4h1.00v-13.5h-1.00zM424.50 756.4h1.00v-12.5h-1.00zM464.30 756.4h0.98v-2.5h-0.98zM465.28 756.4h0.98v-2.5h-0.98zM466.27 756.4h0.98v-2.5h-0.98zM467.25 756.4h0.98v-2.5h-0.98zM468.23 756.4h0.98v-2.5h-0.98zM469.22 756.4h0.98v-2.5h-0.98zM477.20 756.4h0.85v-2.0h-0.85zM478.05 756.4h0.85v-2.0h-0.85zM501.10 756.4h1.20v-10.0h-1.20zM518.10 756.4h1.15v-19.0h-1.15zM519.25 756.4h1.15v-19.0h-1.15zM522.70 756.4h1.00v-15.0h-1.00zM523.70 756.4h1.00v-15.0h-1.00zM524.70 756.4h1.00v-15.0h-1.00zM527.40 756.4h1.20v-14.0h-1.20zM528.60 756.4h1.20v-14.0h-1.20zM532.10 756.4h0.85v-13.0h-0.85zM532.95 756.4h0.85v-13.0h-0.85zM533.80 756.4h1.00v-7.0h-1.00zM534.80 756.4h1.00v-5.0h-1.00zM535.80 756.4h1.00v-3.0h-1.00z" fill="#108a10" fill-opacity="0.7"/>
<path d="M115.80 756.4h1.20v-5.9h-1.20zM117.00 756.4h1.20v-5.9h-1.20zM121.00 756.4h0.90v-11.5h-0.90zM121.90 756.4h0.90v-11.5h-0.90zM122.80 756.4h0.90v-11.5h-0.90zM128.60 756.4h1.15v-7.4h-1.15zM129.75 756.4h1.15v-7.4h-1.15zM130.90 756.4h1.15v-2.8h-1.15zM132.05 756.4h1.15v-2.2h-1.15zM135.30 756.4h1.10v-1.7h-1.10zM136.40 756.4h1.10v-2.2h-1.10zM137.50 756.4h1.10v-2.7h-1.10zM196.90 756.4h1.40v-7.8h-1.40zM198.30 756.4h1.15v-2.6h-1.15zM199.45 756.4h1.15v-1.9h-1.15zM203.80 756.4h1.00v-2.2h-1.00zM204.80 756.4h1.00v-2.6h-1.00zM205.80 756.4h1.00v-3.0h-1.00zM210.30 756.4h1.00v-5.5h-1.00zM211.30 756.4h1.00v-6.7h-1.00zM212.30 756.4h0.75v-10.9h-0.75zM213.05 756.4h0.75v-10.9h-0.75zM213.50 756.4h0.87v-4.5h-0.87zM214.37 756.4h0.87v-3.5h-0.87zM215.23 756.4h0.87v-2.5h-0.87zM229.80 756.4h0.88v-2.9h-0.88zM230.68 756.4h0.88v-2.6h-0.88zM231.55 756.4h0.88v-2.4h-0.88zM232.43 756.4h0.88v-2.1h-0.88zM414.60 756.4h1.20v-30.2h-1.20zM415.80 756.4h1.20v-30.2h-1.20zM417.80 756.4h1.25v-30.2h-1.25zM419.05 756.4h1.25v-30.2h-1.25zM470.40 756.4h0.95v-12.2h-0.95zM471.35 756.4h0.95v-16.8h-0.95zM472.30 756.4h0.87v-20.5h-0.87zM473.17 756.4h0.87v-19.5h-0.87zM474.03 756.4h0.87v-18.5h-0.87zM474.90 756.4h1.15v-12.5h-1.15zM476.05 756.4h1.15v-7.5h-1.15zM506.40 756.4h1.15v-8.0h-1.15zM507.55 756.4h1.15v-8.0h-1.15zM508.70 756.4h0.90v-20.0h-0.90zM509.60 756.4h0.90v-20.0h-0.90zM510.50 756.4h0.94v-29.0h-0.94zM511.44 756.4h0.94v-29.0h-0.94zM512.38 756.4h0.94v-29.0h-0.94zM513.32 756.4h0.94v-29.0h-0.94zM514.26 756.4h0.94v-29.0h-0.94zM515.20 756.4h0.97v-13.0h-0.97zM516.17 756.4h0.97v-13.0h-0.97zM517.13 756.4h0.97v-13.0h-0.97zM520.40 756.4h1.15v-16.0h-1.15zM521.55 756.4h1.15v-16.0h-1.15zM525.70 756.4h0.85v-17.0h-0.85zM526.55 756.4h0.85v-17.0h-0.85zM529.80 756.4h1.15v-15.0h-1.15zM530.95 756.4h1.15v-15.0h-1.15z" fill="#108a10" fill-opacity="0.95"/>
<path d="M118.20 756.4h0.93v-1.0h-0.93zM119.13 756.4h0.93v-1.0h-0.93zM120.07 756.4h0.93v-1.0h-0.93zM140.40 756.4h1.25v-1.5h-1.25zM141.65 756.4h1.25v-1.5h-1.25zM377.40 756.4h0.96v-1.0h-0.96zM378.36 756.4h0.96v-1.1h-0.96zM379.32 756.4h0.96v-1.1h-0.96zM380.28 756.4h0.96v-1.2h-0.96zM381.24 756.4h0.96v-1.2h-0.96zM382.20 756.4h0.96v-1.3h-0.96zM383.16 756.4h0.96v-1.3h-0.96zM384.12 756.4h0.96v-1.4h-0.96zM385.08 756.4h0.96v-1.4h-0.96zM386.04 756.4h0.96v-1.5h-0.96zM389.70 756.4h1.02v-1.0h-1.02zM390.72 756.4h1.02v-1.0h-1.02zM391.73 756.4h1.02v-1.0h-1.02zM392.75 756.4h1.02v-1.0h-1.02zM393.77 756.4h1.02v-1.0h-1.02zM394.78 756.4h1.02v-1.0h-1.02zM402.50 756.4h0.94v-7.4h-0.94zM403.44 756.4h0.94v-7.4h-0.94zM404.38 756.4h0.94v-7.4h-0.94zM405.32 756.4h0.94v-7.4h-0.94zM406.26 756.4h0.94v-7.4h-0.94zM410.70 756.4h0.88v-9.0h-0.88zM411.57 756.4h0.88v-9.0h-0.88zM412.45 756.4h0.88v-9.0h-0.88zM413.32 756.4h0.88v-9.0h-0.88zM421.70 756.4h0.96v-15.8h-0.96zM422.66 756.4h0.96v-15.8h-0.96zM423.62 756.4h0.96v-15.8h-0.96zM424.58 756.4h0.96v-15.8h-0.96zM425.54 756.4h0.96v-15.8h-0.96zM430.30 756.4h0.97v-11.3h-0.97zM431.27 756.4h0.97v-11.3h-0.97zM432.23 756.4h0.97v-11.3h-0.97zM433.20 756.4h0.97v-11.3h-0.97zM434.17 756.4h0.97v-11.3h-0.97zM435.13 756.4h0.97v-11.3h-0.97zM481.30 756.4h0.94v-3.5h-0.94zM482.24 756.4h0.94v-3.5h-0.94zM483.18 756.4h0.94v-3.5h-0.94zM484.12 756.4h0.94v-3.5h-0.94zM485.06 756.4h0.94v-3.5h-0.94zM486.00 756.4h0.97v-5.5h-0.97zM486.97 756.4h0.97v-5.5h-0.97zM487.93 756.4h0.97v-5.5h-0.97zM488.90 756.4h0.97v-5.5h-0.97zM489.87 756.4h0.97v-5.5h-0.97zM490.83 756.4h0.97v-5.5h-0.97zM494.70 756.4h0.97v-2.5h-0.97zM495.67 756.4h0.97v-2.5h-0.97zM496.63 756.4h0.97v-2.5h-0.97zM497.60 756.4h0.97v-2.5h-0.97zM498.57 756.4h0.97v-2.5h-0.97zM499.53 756.4h0.97v-2.5h-0.97zM502.30 756.4h1.02v-13.0h-1.02zM503.32 756.4h1.02v-13.0h-1.02zM504.35 756.4h1.02v-13.0h-1.02zM505.38 756.4h1.02v-13.0h-1.02zM537.40 756.4h0.92v-2.5h-0.92zM538.32 756.4h0.92v-2.5h-0.92zM539.24 756.4h0.92v-2.5h-0.92zM540.16 756.4h0.92v-2.5h-0.92zM541.08 756.4h0.92v-2.5h-0.92zM542.00 756.4h1.00v-0.8h-1.00zM543.00 756.4h1.00v-0.8h-1.00zM544.00 756.4h1.00v-0.8h-1.00zM545.00 756.4h1.00v-0.8h-1.00zM546.00 756.4h1.00v-0.8h-1.00zM547.00 756.4h1.00v-0.8h-1.00zM548.00 756.4h1.00v-0.8h-1.00zM549.00 756.4h1.00v-0.8h-1.00zM550.00 756.4h1.00v-0.8h-1.00zM551.00 756.4h1.00v-0.8h-1.00zM552.00 756.4h1.00v-0.8h-1.00zM553.00 756.4h1.00v-0.8h-1.00zM554.00 756.4h1.00v-0.8h-1.00zM555.00 756.4h1.00v-0.8h-1.00zM556.00 756.4h1.00v-0.8h-1.00zM557.00 756.4h1.00v-0.8h-1.00zM558.00 756.4h1.00v-0.8h-1.00zM559.00 756.4h1.00v-0.8h-1.00zM560.00 756.4h1.00v-0.8h-1.00zM561.00 756.4h1.00v-0.8h-1.00zM562.00 756.4h1.00v-0.8h-1.00zM563.00 756.4h1.00v-0.8h-1.00zM564.00 756.4h1.00v-0.8h-1.00zM565.00 756.4h1.00v-0.8h-1.00zM566.00 756.4h1.00v-0.8h-1.00zM567.00 756.4h1.00v-0.8h-1.00zM568.00 756.4h1.00v-0.8h-1.00zM569.00 756.4h1.00v-0.8h-1.00zM570.00 756.4h1.00v-0.8h-1.00zM571.00 756.4h1.00v-0.8h-1.00z" fill="#108a10" fill-opacity="0.35"/>
<path d="M417.00 756.4h0.80v-30.2h-0.80zM431.00 756.4h1.00v-9.8h-1.00zM432.00 756.4h1.00v-9.2h-1.00zM433.00 756.4h1.00v-8.8h-1.00zM434.00 756.4h1.00v-8.2h-1.00z" fill="#108a10" fill-opacity="0.45"/>
<path d="M95.40 819.4h1.00v-1.0h-1.00zM96.40 819.4h1.00v-1.0h-1.00zM97.40 819.4h1.00v-1.0h-1.00zM114.00 819.4h1.02v-5.2h-1.02zM115.03 819.4h1.02v-4.6h-1.02zM116.05 819.4h1.02v-3.9h-1.02zM117.07 819.4h1.02v-3.3h-1.02zM121.00 819.4h0.97v-9.3h-0.97zM121.97 819.4h0.97v-8.0h-0.97zM122.93 819.4h0.97v-6.7h-0.97zM124.60 819.4h1.13v-5.2h-1.13zM125.73 819.4h1.13v-4.8h-1.13zM126.87 819.4h1.13v-4.2h-1.13zM142.90 819.4h0.97v-5.7h-0.97zM143.87 819.4h0.97v-5.0h-0.97zM144.83 819.4h0.97v-4.3h-0.97zM174.00 819.4h1.03v-1.5h-1.03zM175.03 819.4h1.03v-1.5h-1.03zM176.06 819.4h1.03v-1.5h-1.03zM177.09 819.4h1.03v-1.5h-1.03zM178.11 819.4h1.03v-1.5h-1.03zM179.14 819.4h1.03v-1.5h-1.03zM180.17 819.4h1.03v-1.5h-1.03zM181.20 819.4h1.03v-1.5h-1.03zM182.23 819.4h1.03v-1.5h-1.03zM183.26 819.4h1.03v-1.5h-1.03zM184.29 819.4h1.03v-1.5h-1.03zM185.31 819.4h1.03v-1.5h-1.03zM186.34 819.4h1.03v-1.5h-1.03zM187.37 819.4h1.03v-1.5h-1.03zM198.40 819.4h0.80v-2.0h-0.80zM199.20 819.4h0.80v-2.0h-0.80zM233.00 819.4h1.00v-2.0h-1.00zM234.00 819.4h1.00v-2.0h-1.00zM235.00 819.4h1.00v-2.0h-1.00zM238.80 819.4h1.10v-1.5h-1.10zM239.90 819.4h1.10v-1.5h-1.10zM244.50 819.4h1.00v-1.5h-1.00zM303.50 819.4h1.00v-1.2h-1.00zM324.50 819.4h1.00v-1.2h-1.00zM463.30 819.4h1.06v-1.0h-1.06zM464.36 819.4h1.06v-1.0h-1.06zM465.42 819.4h1.06v-1.0h-1.06zM466.48 819.4h1.06v-1.0h-1.06zM467.54 819.4h1.06v-1.0h-1.06zM469.20 819.4h1.30v-2.5h-1.30zM515.90 819.4h0.95v-9.0h-0.95zM516.85 819.4h0.95v-9.0h-0.95zM519.80 819.4h1.00v-7.0h-1.00zM520.80 819.4h1.00v-7.0h-1.00zM521.80 819.4h1.00v-7.0h-1.00zM522.80 819.4h1.00v-7.0h-1.00zM527.70 819.4h0.87v-8.0h-0.87zM528.57 819.4h0.87v-8.0h-0.87zM529.43 819.4h0.87v-8.0h-0.87z" fill="#f86a16" fill-opacity="0.7"/>
<path d="M110.80 819.4h1.07v-2.3h-1.07zM111.87 819.4h1.07v-3.0h-1.07zM112.93 819.4h1.07v-3.7h-1.07zM128.00 819.4h0.98v-4.8h-0.98zM128.97 819.4h0.98v-4.2h-0.98zM129.95 819.4h0.98v-3.8h-0.98zM130.93 819.4h0.98v-3.2h-0.98zM133.00 819.4h0.96v-2.0h-0.96zM133.96 819.4h0.96v-2.0h-0.96zM134.93 819.4h0.96v-2.0h-0.96zM135.89 819.4h0.96v-2.0h-0.96zM136.85 819.4h0.96v-2.0h-0.96zM137.81 819.4h0.96v-2.0h-0.96zM138.77 819.4h0.96v-2.0h-0.96zM139.74 819.4h0.96v-2.0h-0.96zM148.00 819.4h1.00v-1.5h-1.00zM149.00 819.4h1.00v-1.5h-1.00zM150.00 819.4h1.00v-1.5h-1.00zM151.00 819.4h1.00v-1.5h-1.00zM152.00 819.4h1.00v-1.5h-1.00zM153.00 819.4h1.00v-1.5h-1.00zM154.00 819.4h1.00v-1.5h-1.00zM158.20 819.4h1.10v-2.5h-1.10zM159.30 819.4h1.10v-2.5h-1.10zM160.40 819.4h1.10v-2.5h-1.10zM161.50 819.4h1.10v-2.5h-1.10zM380.00 819.4h1.06v-1.0h-1.06zM381.06 819.4h1.06v-1.0h-1.06zM382.12 819.4h1.06v-1.0h-1.06zM383.18 819.4h1.06v-1.0h-1.06zM384.24 819.4h1.06v-1.0h-1.06zM402.80 819.4h1.04v-2.0h-1.04zM403.84 819.4h1.04v-2.0h-1.04zM404.88 819.4h1.04v-2.0h-1.04zM405.92 819.4h1.04v-2.0h-1.04zM406.96 819.4h1.04v-2.0h-1.04zM410.70 819.4h0.88v-7.3h-0.88zM411.57 819.4h0.88v-7.3h-0.88zM412.45 819.4h0.88v-7.3h-0.88zM413.32 819.4h0.88v-7.3h-0.88zM422.00 819.4h1.12v-7.9h-1.12zM423.12 819.4h1.12v-7.9h-1.12zM424.25 819.4h1.12v-7.9h-1.12zM425.38 819.4h1.12v-7.9h-1.12zM430.30 819.4h0.97v-3.8h-0.97zM431.27 819.4h0.97v-3.8h-0.97zM432.23 819.4h0.97v-3.8h-0.97zM433.20 819.4h0.97v-3.8h-0.97zM434.17 819.4h0.97v-3.8h-0.97zM435.13 819.4h0.97v-3.8h-0.97zM474.50 819.4h0.87v-4.0h-0.87zM475.37 819.4h0.87v-4.0h-0.87zM476.23 819.4h0.87v-4.0h-0.87zM481.00 819.4h0.94v-1.5h-0.94zM481.94 819.4h0.94v-1.5h-0.94zM482.88 819.4h0.94v-1.5h-0.94zM483.82 819.4h0.94v-1.5h-0.94zM484.76 819.4h0.94v-1.5h-0.94zM487.60 819.4h1.00v-1.0h-1.00zM488.60 819.4h1.00v-1.0h-1.00zM489.60 819.4h1.00v-1.0h-1.00zM490.60 819.4h1.00v-1.0h-1.00zM495.50 819.4h0.92v-2.0h-0.92zM496.42 819.4h0.92v-2.0h-0.92zM497.34 819.4h0.92v-2.0h-0.92zM498.26 819.4h0.92v-2.0h-0.92zM499.18 819.4h0.92v-2.0h-0.92zM502.00 819.4h0.94v-3.0h-0.94zM502.94 819.4h0.94v-3.0h-0.94zM503.88 819.4h0.94v-3.0h-0.94zM504.82 819.4h0.94v-3.0h-0.94zM505.76 819.4h0.94v-3.0h-0.94zM538.20 819.4h0.97v-1.5h-0.97zM539.18 819.4h0.97v-1.5h-0.97zM540.15 819.4h0.97v-1.5h-0.97zM541.12 819.4h0.97v-1.5h-0.97zM543.50 819.4h1.04v-3.0h-1.04zM544.54 819.4h1.04v-3.0h-1.04zM545.58 819.4h1.04v-3.0h-1.04zM546.62 819.4h1.04v-3.0h-1.04zM547.66 819.4h1.04v-3.0h-1.04z" fill="#f86a16" fill-opacity="0.35"/>
<path d="M196.80 819.4h0.80v-9.0h-0.80zM197.60 819.4h0.80v-9.0h-0.80zM204.40 819.4h1.30v-19.5h-1.30zM210.70 819.4h0.90v-10.8h-0.90zM211.60 819.4h0.90v-12.2h-0.90zM212.50 819.4h1.10v-11.8h-1.10zM213.60 819.4h1.10v-9.2h-1.10zM230.40 819.4h0.87v-7.5h-0.87zM231.27 819.4h0.87v-6.5h-0.87zM232.13 819.4h0.87v-5.5h-0.87zM414.60 819.4h1.20v-30.4h-1.20zM415.80 819.4h1.20v-30.4h-1.20zM417.80 819.4h1.25v-30.4h-1.25zM419.05 819.4h1.25v-30.4h-1.25zM471.90 819.4h0.95v-7.3h-0.95zM472.85 819.4h0.95v-7.3h-0.95zM508.00 819.4h0.87v-5.0h-0.87zM508.87 819.4h0.87v-7.0h-0.87zM509.73 819.4h0.87v-9.0h-0.87zM510.60 819.4h1.10v-18.7h-1.10zM511.70 819.4h1.10v-20.1h-1.10zM512.80 819.4h1.10v-21.6h-1.10zM513.90 819.4h1.00v-13.0h-1.00zM514.90 819.4h1.00v-13.0h-1.00zM517.80 819.4h1.00v-8.6h-1.00zM518.80 819.4h1.00v-8.9h-1.00zM523.80 819.4h0.98v-9.2h-0.98zM524.77 819.4h0.98v-9.4h-0.98zM525.75 819.4h0.98v-9.8h-0.98zM526.73 819.4h0.98v-10.0h-0.98zM530.30 819.4h1.00v-9.0h-1.00zM531.30 819.4h1.00v-9.0h-1.00zM532.30 819.4h0.87v-12.0h-0.87zM533.17 819.4h0.87v-11.6h-0.87zM534.03 819.4h0.87v-11.2h-0.87zM534.90 819.4h1.15v-6.0h-1.15zM536.05 819.4h1.15v-4.0h-1.15z" fill="#f86a16" fill-opacity="0.95"/>
<path d="M417.00 819.4h0.80v-30.4h-0.80z" fill="#f86a16" fill-opacity="0.45"/>
<line x1="77.8" y1="756.5" x2="572.7" y2="756.5" stroke="#8cc56f" stroke-width="1"/>
<line x1="77.8" y1="787.5" x2="572.7" y2="787.5" stroke="#444" stroke-width="1"/>
<line x1="77.8" y1="819.5" x2="572.7" y2="819.5" stroke="#f7a36a" stroke-width="1"/>
<line x1="173.5" y1="728" x2="173.5" y2="882" stroke="#444" stroke-width="1"/>
<line x1="348.5" y1="728" x2="348.5" y2="882" stroke="#444" stroke-width="1"/>
<line x1="462.5" y1="728" x2="462.5" y2="882" stroke="#444" stroke-width="1"/>
<path d="M584.1 721.4H576.4V750.1H584.1" fill="none" stroke="#888" stroke-width="1"/>
<text x="590.4" y="726.0" font-size="10" text-anchor="start" font-weight="normal" fill="#222" stroke="#222" stroke-width="0.1">100</text>
<text x="590.4" y="753.9" font-size="10" text-anchor="start" font-weight="normal" fill="#222" stroke="#222" stroke-width="0.1">0</text>
<path d="M584.1 758.6H576.4V784.3H584.1" fill="none" stroke="#888" stroke-width="1"/>
<text x="590.4" y="763.2" font-size="10" text-anchor="start" font-weight="normal" fill="#222" stroke="#222" stroke-width="0.1">100</text>
<text x="590.4" y="788.1" font-size="10" text-anchor="start" font-weight="normal" fill="#222" stroke="#222" stroke-width="0.1">0</text>
<path d="M584.1 792.8H576.4V818.8H584.1" fill="none" stroke="#888" stroke-width="1"/>
<text x="590.4" y="797.4" font-size="10" text-anchor="start" font-weight="normal" fill="#222" stroke="#222" stroke-width="0.1">100</text>
<text x="590.4" y="822.6" font-size="10" text-anchor="start" font-weight="normal" fill="#222" stroke="#222" stroke-width="0.1">0</text>
<path d="M104.4 829H162.4L166.4 832.85L162.4 836.7H104.4Z" fill="#ff00ff"/>
<path d="M234.6 829H344.2L348.2 832.85L344.2 836.7H234.6Z" fill="#ff00ff"/>
<text x="114.2" y="823.8" font-family="Liberation Mono, monospace" font-size="5.45" font-weight="normal" fill="#ff40ff" fill-opacity="0.5" textLength="42.8" lengthAdjust="spacingAndGlyphs">Carubv10003938m.g</text>
<text x="266.9" y="823.8" font-family="Liberation Mono, monospace" font-size="6.47" font-weight="bold" fill="#e020e0" fill-opacity="0.9" textLength="50.8" lengthAdjust="spacingAndGlyphs">Carubv10000420m.g</text>
<path d="M99.6 848.3H99.60000000000001L104.4 852.0999999999999L99.60000000000001 855.9H99.6Z" fill="#2e9e6a"/>
<rect x="173.6" y="848.3" width="0.9" height="7" fill="#2e9e6a" fill-opacity="0.7"/>
<rect x="199.9" y="848.3" width="0.9" height="7" fill="#2e9e6a" fill-opacity="0.7"/>
<rect x="223.7" y="848.3" width="0.9" height="7" fill="#2e9e6a" fill-opacity="0.7"/>
<rect x="250.0" y="848.3" width="0.9" height="7" fill="#2e9e6a" fill-opacity="0.7"/>
<rect x="571.9" y="848.3" width="0.9" height="7" fill="#2e9e6a" fill-opacity="0.7"/>
<path d="M217.1 849H217.10000000000002L219.8 851.75L217.10000000000002 854.5H217.1Z" fill="#2e9e6a"/>
<path d="M350 849H362.7L366.7 852.25L362.7 855.5H350Z" fill="#2e9e6a"/>
<path d="M436 849H451L455 852.25L451 855.5H436Z" fill="#2e9e6a"/>
<path d="M521.4 849H535.2L539.2 852.25L535.2 855.5H521.4Z" fill="#2e9e6a"/>
<path d="M562 849H564.7L567.7 852.25L564.7 855.5H562Z" fill="#2e9e6a"/>
<text x="350.5" y="843.9" font-family="Liberation Mono, monospace" font-size="3.56" font-weight="normal" fill="#2e9e6a" fill-opacity="0.45" textLength="11.5" lengthAdjust="spacingAndGlyphs">te301..</text>
<text x="436" y="843.9" font-family="Liberation Mono, monospace" font-size="5.57" font-weight="normal" fill="#2e9e6a" fill-opacity="0.45" textLength="18.0" lengthAdjust="spacingAndGlyphs">te30117</text>
<text x="522" y="843.9" font-family="Liberation Mono, monospace" font-size="4.33" font-weight="normal" fill="#2e9e6a" fill-opacity="0.45" textLength="14.0" lengthAdjust="spacingAndGlyphs">te35409</text>
<path d="M93.6 866.9H168.4L172.4 870.75L168.4 874.6H93.6Z" fill="#ff0a0a"/>
<path d="M174.5 866.9H195.7L199.7 870.75L195.7 874.6H174.5Z" fill="#ff0a0a"/>
<path d="M203.2 866.9H212.2L216.2 870.75L212.2 874.6H203.2Z" fill="#ff0a0a"/>
<path d="M377.2 867.4H433.9L437.9 871.1999999999999L433.9 875.0H377.2Z" fill="#ff0a0a"/>
<path d="M463.3 867.4H568.3L572.3 871.1999999999999L568.3 875.0H463.3Z" fill="#ff0a0a"/>
<text x="116.7" y="861.9" font-family="Liberation Mono, monospace" font-size="5.50" font-weight="normal" fill="#ff5050" fill-opacity="0.5" textLength="33.0" lengthAdjust="spacingAndGlyphs">Cluster_25882</text>
<text x="175" y="861.6" font-family="Liberation Mono, monospace" font-size="5.71" font-weight="bold" fill="#ff0a0a" fill-opacity="0.9" textLength="23.7" lengthAdjust="spacingAndGlyphs">Cluster..</text>
<text x="203" y="861.6" font-family="Liberation Mono, monospace" font-size="5.20" font-weight="bold" fill="#ff0a0a" fill-opacity="0.8" textLength="12.0" lengthAdjust="spacingAndGlyphs">Clu..</text>
<text x="391" y="862.2" font-family="Liberation Mono, monospace" font-size="5.50" font-weight="normal" fill="#ff5050" fill-opacity="0.5" textLength="33.0" lengthAdjust="spacingAndGlyphs">Cluster_25315</text>
<text x="503" y="862.2" font-family="Liberation Mono, monospace" font-size="5.33" font-weight="normal" fill="#ff5050" fill-opacity="0.5" textLength="32.0" lengthAdjust="spacingAndGlyphs">Cluster_10031</text>
<text x="168.9" y="894.5" font-size="11.6" text-anchor="end" font-weight="normal" fill="#222" stroke="#222" stroke-width="0.1">Chr. 6: 9,281,181</text>
<text x="168.9" y="908.5" font-size="11.6" text-anchor="end" font-weight="normal" fill="#222" stroke="#222" stroke-width="0.1">–9,282,078</text>
<text x="301.9" y="894.5" font-size="11.6" text-anchor="end" font-weight="normal" fill="#222" stroke="#222" stroke-width="0.1">Chr. 1: 7,096,416</text>
<text x="301.9" y="908.5" font-size="11.6" text-anchor="end" font-weight="normal" fill="#222" stroke="#222" stroke-width="0.1">–7,096,848</text>
<text x="450.0" y="894.5" font-size="11.6" text-anchor="end" font-weight="normal" fill="#222" stroke="#222" stroke-width="0.1">Chr. 6: 8,601,996</text>
<text x="450.0" y="908.5" font-size="11.6" text-anchor="end" font-weight="normal" fill="#222" stroke="#222" stroke-width="0.1">–8,602,318</text>
<text x="568.8" y="894.5" font-size="11.6" text-anchor="end" font-weight="normal" fill="#222" stroke="#222" stroke-width="0.1">Chr. 4: 3,004,283</text>
<text x="568.8" y="908.5" font-size="11.6" text-anchor="end" font-weight="normal" fill="#222" stroke="#222" stroke-width="0.1">–3,004,862</text>
<line x1="103.2" y1="933.5" x2="103.2" y2="1086" stroke="#555"/>
<line x1="103.2" y1="1086" x2="297" y2="1086" stroke="#555"/>
<line x1="98.60000000000001" y1="933.5" x2="103.2" y2="933.5" stroke="#555"/>
<text x="92.8" y="937.5" font-size="11.2" text-anchor="end" font-weight="normal" fill="#333" stroke="#333" stroke-width="0.1">50</text>
<line x1="98.60000000000001" y1="964.0" x2="103.2" y2="964.0" stroke="#555"/>
<text x="92.8" y="968.0" font-size="11.2" text-anchor="end" font-weight="normal" fill="#333" stroke="#333" stroke-width="0.1">40</text>
<line x1="98.60000000000001" y1="994.5" x2="103.2" y2="994.5" stroke="#555"/>
<text x="92.8" y="998.5" font-size="11.2" text-anchor="end" font-weight="normal" fill="#333" stroke="#333" stroke-width="0.1">30</text>
<line x1="98.60000000000001" y1="1025.0" x2="103.2" y2="1025.0" stroke="#555"/>
<text x="92.8" y="1029.0" font-size="11.2" text-anchor="end" font-weight="normal" fill="#333" stroke="#333" stroke-width="0.1">20</text>
<line x1="98.60000000000001" y1="1055.5" x2="103.2" y2="1055.5" stroke="#555"/>
<text x="92.8" y="1059.5" font-size="11.2" text-anchor="end" font-weight="normal" fill="#333" stroke="#333" stroke-width="0.1">10</text>
<line x1="98.60000000000001" y1="1086.0" x2="103.2" y2="1086.0" stroke="#555"/>
<text x="92.8" y="1090.0" font-size="11.2" text-anchor="end" font-weight="normal" fill="#333" stroke="#333" stroke-width="0.1">0</text>
<line x1="103.20" y1="1086" x2="103.20" y2="1090" stroke="#555"/>
<line x1="141.96" y1="1086" x2="141.96" y2="1090" stroke="#555"/>
<line x1="180.72" y1="1086" x2="180.72" y2="1090" stroke="#555"/>
<line x1="219.48" y1="1086" x2="219.48" y2="1090" stroke="#555"/>
<line x1="258.24" y1="1086" x2="258.24" y2="1090" stroke="#555"/>
<line x1="297.00" y1="1086" x2="297.00" y2="1090" stroke="#555"/>
<rect x="112.40" y="986.88" width="20.6" height="99.12" fill="#c5e0b4"/>
<text transform="translate(126.2,1102) rotate(-45)" font-size="11.8" text-anchor="end" fill="#222">Genes</text>
<rect x="151.16" y="1004.87" width="20.6" height="81.13" fill="#b4c7e7"/>
<text transform="translate(165.0,1102) rotate(-45)" font-size="11.8" text-anchor="end" fill="#222">2-kb promoter</text>
<rect x="189.92" y="1080.51" width="20.6" height="5.49" fill="#4472c4"/>
<text transform="translate(203.7,1102) rotate(-45)" font-size="11.8" text-anchor="end" fill="#222">5′-UTR</text>
<rect x="228.68" y="1075.02" width="20.6" height="10.98" fill="#a5a5a5"/>
<text transform="translate(242.5,1102) rotate(-45)" font-size="11.8" text-anchor="end" fill="#222">Intergenic</text>
<rect x="267.44" y="977.73" width="20.6" height="108.27" fill="#f4b183"/>
<text transform="translate(281.2,1102) rotate(-45)" font-size="11.8" text-anchor="end" fill="#222">TEs</text>
<text x="124.0" y="989.5" font-size="15.5" text-anchor="middle" font-weight="normal" fill="#222" stroke="#222" stroke-width="0.1">*</text>
<text x="162.2" y="1007.2" font-size="15.5" text-anchor="middle" font-weight="normal" fill="#222" stroke="#222" stroke-width="0.1">*</text>
<text x="278.1" y="980.8" font-size="15.5" text-anchor="middle" font-weight="normal" fill="#222" letter-spacing="0.6">***</text>
<text transform="translate(49.6,1013) rotate(-90)" font-size="11.9" text-anchor="middle" fill="#222">Overlap of PMsiRNA clusters</text>
<text transform="translate(65,1010) rotate(-90)" font-size="11.9" text-anchor="middle" fill="#222">with genomic features (%)</text>
</svg></body></html>
